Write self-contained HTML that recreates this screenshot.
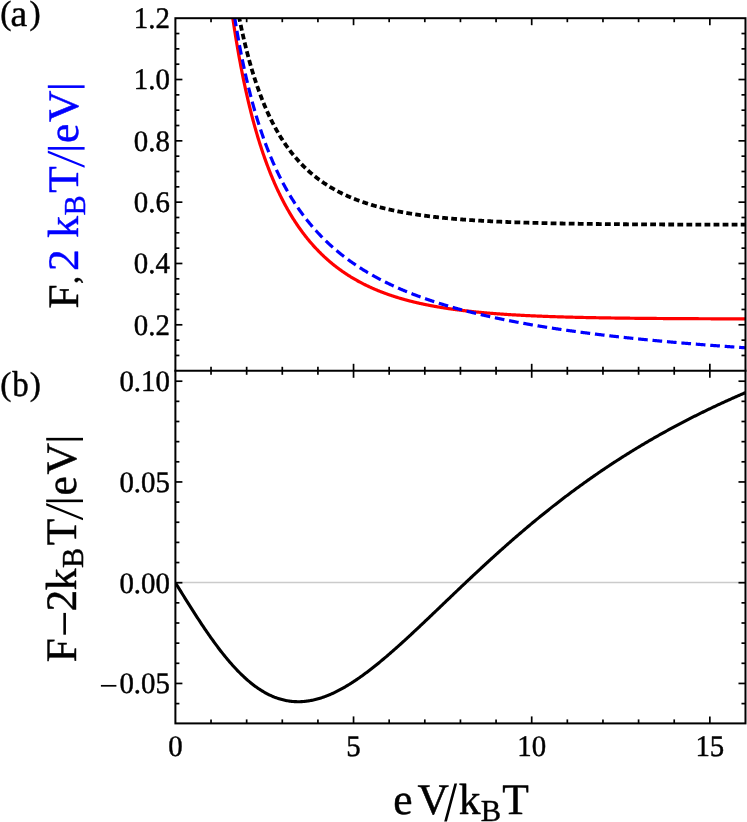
<!DOCTYPE html>
<html><head><meta charset="utf-8"><title>Fano factor</title>
<style>html,body{margin:0;padding:0;background:#fff}body{width:747px;height:822px;overflow:hidden}svg{display:block}</style>
</head><body>
<svg width="747" height="822" viewBox="0 0 747 822">
<rect width="747" height="822" fill="#fff"/>
<defs>
<clipPath id="ca"><rect x="175.40" y="18.20" width="570.08" height="352.60"/></clipPath>
<clipPath id="cb"><rect x="175.40" y="370.80" width="570.08" height="352.60"/></clipPath>
</defs>
<g clip-path="url(#ca)" fill="none" stroke-linejoin="round">
<path d="M211.03,-218.69 L211.48,-210.91 L211.93,-203.33 L212.39,-195.93 L212.84,-188.71 L213.29,-181.65 L213.74,-174.77 L214.19,-168.04 L214.64,-161.46 L215.10,-155.03 L215.55,-148.74 L216.00,-142.60 L216.45,-136.58 L216.90,-130.70 L217.35,-124.94 L217.81,-119.30 L218.26,-113.78 L218.71,-108.37 L219.16,-103.07 L219.61,-97.88 L220.06,-92.80 L220.52,-87.81 L220.97,-82.92 L221.42,-78.13 L221.87,-73.42 L222.32,-68.81 L222.77,-64.28 L223.23,-59.84 L223.68,-55.48 L224.13,-51.20 L224.58,-47.00 L225.03,-42.87 L225.48,-38.81 L225.94,-34.83 L226.39,-30.92 L226.84,-27.07 L227.29,-23.29 L227.74,-19.58 L228.19,-15.93 L228.65,-12.33 L229.10,-8.80 L229.55,-5.33 L230.00,-1.91 L230.45,1.45 L230.90,4.76 L231.36,8.02 L231.81,11.22 L232.26,14.38 L232.71,17.48 L233.16,20.54 L233.61,23.55 L234.07,26.51 L234.52,29.43 L234.97,32.31 L235.42,35.14 L235.87,37.94 L236.32,40.69 L236.78,43.40 L237.23,46.07 L237.68,48.71 L238.13,51.30 L238.58,53.86 L239.03,56.39 L239.49,58.88 L239.94,61.33 L240.39,63.75 L240.84,66.14 L241.29,68.50 L241.74,70.82 L242.20,73.11 L242.65,75.38 L243.10,77.61 L243.55,79.81 L244.00,81.99 L244.46,84.14 L244.91,86.25 L245.36,88.35 L245.81,90.41 L246.26,92.45 L246.71,94.46 L247.17,96.45 L247.62,98.42 L248.07,100.36 L248.52,102.27 L248.97,104.17 L249.42,106.04 L249.88,107.88 L250.33,109.71 L250.78,111.51 L251.23,113.29 L251.68,115.05 L252.13,116.80 L252.59,118.52 L253.04,120.22 L253.49,121.90 L253.94,123.56 L254.39,125.20 L254.84,126.82 L255.30,128.43 L255.75,130.02 L256.20,131.59 L256.65,133.14 L257.10,134.67 L257.55,136.19 L258.01,137.69 L258.46,139.18 L258.91,140.65 L259.36,142.10 L259.81,143.54 L260.26,144.96 L260.72,146.37 L261.17,147.76 L261.62,149.14 L262.07,150.50 L262.52,151.85 L262.97,153.18 L263.43,154.50 L263.88,155.81 L264.33,157.11 L264.78,158.39 L265.23,159.65 L265.68,160.91 L266.14,162.15 L266.59,163.38 L267.04,164.60 L267.49,165.80 L267.94,167.00 L268.39,168.18 L268.85,169.35 L269.30,170.51 L269.75,171.65 L270.20,172.79 L270.65,173.91 L271.10,175.03 L271.56,176.13 L272.01,177.22 L272.46,178.30 L272.91,179.38 L273.36,180.44 L273.81,181.49 L274.27,182.53 L274.72,183.56 L275.17,184.59 L275.62,185.60 L276.07,186.60 L276.53,187.60 L276.98,188.58 L277.43,189.56 L277.88,190.52 L278.33,191.48 L278.78,192.43 L279.24,193.37 L279.69,194.31 L280.14,195.23 L280.59,196.15 L281.04,197.05 L281.49,197.95 L281.95,198.84 L282.40,199.73 L282.85,200.60 L283.30,201.47 L283.75,202.33 L284.20,203.19 L284.66,204.03 L285.11,204.87 L285.56,205.70 L286.01,206.52 L286.46,207.34 L286.91,208.15 L287.37,208.95 L287.82,209.75 L288.27,210.54 L288.72,211.32 L289.17,212.09 L289.62,212.86 L290.08,213.63 L290.53,214.38 L290.98,215.13 L291.43,215.88 L291.88,216.61 L292.33,217.34 L292.79,218.07 L293.24,218.79 L293.69,219.50 L294.14,220.21 L294.59,220.91 L295.04,221.60 L295.50,222.29 L295.95,222.98 L296.40,223.66 L296.85,224.33 L297.30,225.00 L297.75,225.66 L298.21,226.32 L298.66,226.97 L299.11,227.62 L299.56,228.26 L300.01,228.89 L300.46,229.52 L300.92,230.15 L301.37,230.77 L301.82,231.39 L302.27,232.00 L302.72,232.61 L303.17,233.21 L303.63,233.80 L304.08,234.40 L304.53,234.98 L304.98,235.57 L305.43,236.15 L305.88,236.72 L306.34,237.29 L306.79,237.85 L307.24,238.41 L307.69,238.97 L308.14,239.52 L308.59,240.07 L309.05,240.61 L309.50,241.15 L309.95,241.69 L310.40,242.22 L310.85,242.75 L311.31,243.27 L311.76,243.79 L312.21,244.30 L312.66,244.82 L313.11,245.32 L313.56,245.83 L314.02,246.33 L314.47,246.82 L314.92,247.31 L315.37,247.80 L315.82,248.29 L316.27,248.77 L316.73,249.25 L317.18,249.72 L317.63,250.19 L318.08,250.66 L318.53,251.12 L318.98,251.58 L319.44,252.04 L319.89,252.49 L320.34,252.94 L320.79,253.39 L321.24,253.83 L321.69,254.27 L322.15,254.71 L322.60,255.14 L323.05,255.57 L323.50,256.00 L323.95,256.43 L324.40,256.85 L324.86,257.26 L325.31,257.68 L325.76,258.09 L326.21,258.50 L326.66,258.91 L327.11,259.31 L327.57,259.71 L328.02,260.11 L328.47,260.50 L328.92,260.89 L329.37,261.28 L329.82,261.67 L330.28,262.05 L330.73,262.43 L331.18,262.81 L331.63,263.18 L332.08,263.56 L332.53,263.93 L332.99,264.29 L333.44,264.66 L333.89,265.02 L334.34,265.38 L334.79,265.74 L335.24,266.09 L335.70,266.44 L336.15,266.79 L336.60,267.14 L337.05,267.48 L337.50,267.82 L337.95,268.16 L338.41,268.50 L338.86,268.84 L339.31,269.17 L339.76,269.50 L340.21,269.83 L340.66,270.15 L341.12,270.47 L341.57,270.79 L342.02,271.11 L342.47,271.43 L342.92,271.74 L343.38,272.06 L343.83,272.37 L344.28,272.67 L344.73,272.98 L345.18,273.28 L345.63,273.58 L346.09,273.88 L346.54,274.18 L346.99,274.47 L347.44,274.77 L347.89,275.06 L348.34,275.35 L348.80,275.63 L349.25,275.92 L349.70,276.20 L350.15,276.48 L350.60,276.76 L351.05,277.04 L351.51,277.31 L351.96,277.59 L352.41,277.86 L352.86,278.13 L353.31,278.40 L353.76,278.66 L354.22,278.93 L354.67,279.19 L355.12,279.45 L355.57,279.71 L356.02,279.97 L356.47,280.22 L356.93,280.48 L357.38,280.73 L357.83,280.98 L358.28,281.23 L358.73,281.47 L359.18,281.72 L359.64,281.96 L360.09,282.20 L360.54,282.44 L360.99,282.68 L361.44,282.92 L361.89,283.15 L362.35,283.39 L362.80,283.62 L363.25,283.85 L363.70,284.08 L364.15,284.31 L364.60,284.53 L365.06,284.76 L365.51,284.98 L365.96,285.20 L366.41,285.42 L366.86,285.64 L367.31,285.86 L367.77,286.07 L368.22,286.28 L368.67,286.50 L369.12,286.71 L369.57,286.92 L370.02,287.13 L370.48,287.33 L370.93,287.54 L371.38,287.74 L371.83,287.95 L372.28,288.15 L372.73,288.35 L373.19,288.55 L373.64,288.74 L374.09,288.94 L374.54,289.13 L374.99,289.33 L375.45,289.52 L375.90,289.71 L376.35,289.90 L376.80,290.09 L377.25,290.28 L377.70,290.46 L378.16,290.65 L378.61,290.83 L379.06,291.01 L379.51,291.19 L379.96,291.37 L380.41,291.55 L380.87,291.73 L381.32,291.91 L381.77,292.08 L382.22,292.25 L382.67,292.43 L383.12,292.60 L383.58,292.77 L384.03,292.94 L384.48,293.11 L384.93,293.27 L385.38,293.44 L385.83,293.61 L386.29,293.77 L386.74,293.93 L387.19,294.09 L387.64,294.25 L388.09,294.41 L388.54,294.57 L389.00,294.73 L389.45,294.89 L389.90,295.04 L390.35,295.20 L390.80,295.35 L391.25,295.50 L391.71,295.65 L392.16,295.80 L392.61,295.95 L393.06,296.10 L393.51,296.25 L393.96,296.40 L394.42,296.54 L394.87,296.69 L395.32,296.83 L395.77,296.97 L396.22,297.11 L396.67,297.25 L397.13,297.39 L397.58,297.53 L398.03,297.67 L398.48,297.81 L398.93,297.94 L399.38,298.08 L399.84,298.21 L400.29,298.35 L400.74,298.48 L401.19,298.61 L401.64,298.74 L402.09,298.87 L402.55,299.00 L403.00,299.13 L403.45,299.26 L403.90,299.39 L404.35,299.51 L404.80,299.64 L405.26,299.76 L405.71,299.88 L406.16,300.01 L406.61,300.13 L407.06,300.25 L407.52,300.37 L407.97,300.49 L408.42,300.61 L408.87,300.73 L409.32,300.84 L409.77,300.96 L410.23,301.08 L410.68,301.19 L411.13,301.31 L411.58,301.42 L412.03,301.53 L412.48,301.64 L412.94,301.75 L413.39,301.87 L413.84,301.98 L414.29,302.08 L414.74,302.19 L415.19,302.30 L415.65,302.41 L416.10,302.51 L416.55,302.62 L417.00,302.72 L417.45,302.83 L417.90,302.93 L418.36,303.03 L418.81,303.14 L419.26,303.24 L419.71,303.34 L420.16,303.44 L420.61,303.54 L421.07,303.64 L421.52,303.74 L421.97,303.83 L422.42,303.93 L422.87,304.03 L423.32,304.12 L423.78,304.22 L424.23,304.31 L424.68,304.41 L425.13,304.50 L425.58,304.59 L426.03,304.69 L426.49,304.78 L426.94,304.87 L427.39,304.96 L427.84,305.05 L428.29,305.14 L428.74,305.23 L429.20,305.31 L429.65,305.40 L430.10,305.49 L430.55,305.58 L431.00,305.66 L431.45,305.75 L431.91,305.83 L432.36,305.92 L432.81,306.00 L433.26,306.08 L433.71,306.16 L434.16,306.25 L434.62,306.33 L435.07,306.41 L435.52,306.49 L435.97,306.57 L436.42,306.65 L436.87,306.73 L437.33,306.81 L437.78,306.88 L438.23,306.96 L438.68,307.04 L439.13,307.12 L439.59,307.19 L440.04,307.27 L440.49,307.34 L440.94,307.42 L441.39,307.49 L441.84,307.56 L442.30,307.64 L442.75,307.71 L443.20,307.78 L443.65,307.85 L444.10,307.92 L444.55,307.99 L445.01,308.07 L445.46,308.14 L445.91,308.20 L446.36,308.27 L446.81,308.34 L447.26,308.41 L447.72,308.48 L448.17,308.54 L448.62,308.61 L449.07,308.68 L449.52,308.74 L449.97,308.81 L450.43,308.87 L450.88,308.94 L451.33,309.00 L451.78,309.07 L452.23,309.13 L452.68,309.19 L453.14,309.26 L453.59,309.32 L454.04,309.38 L454.49,309.44 L454.94,309.50 L455.39,309.56 L455.85,309.62 L456.30,309.68 L456.75,309.74 L457.20,309.80 L457.65,309.86 L458.10,309.92 L458.56,309.98 L459.01,310.03 L459.46,310.09 L459.91,310.15 L460.36,310.20 L460.81,310.26 L461.27,310.32 L461.72,310.37 L462.17,310.43 L462.62,310.48 L463.07,310.54 L463.52,310.59 L463.98,310.64 L464.43,310.70 L464.88,310.75 L465.33,310.80 L465.78,310.85 L466.23,310.91 L466.69,310.96 L467.14,311.01 L467.59,311.06 L468.04,311.11 L468.49,311.16 L468.94,311.21 L469.40,311.26 L469.85,311.31 L470.30,311.36 L470.75,311.41 L471.20,311.46 L471.65,311.51 L472.11,311.55 L472.56,311.60 L473.01,311.65 L473.46,311.69 L473.91,311.74 L474.37,311.79 L474.82,311.83 L475.27,311.88 L475.72,311.92 L476.17,311.97 L476.62,312.01 L477.08,312.06 L477.53,312.10 L477.98,312.15 L478.43,312.19 L478.88,312.23 L479.33,312.28 L479.79,312.32 L480.24,312.36 L480.69,312.41 L481.14,312.45 L481.59,312.49 L482.04,312.53 L482.50,312.57 L482.95,312.61 L483.40,312.65 L483.85,312.69 L484.30,312.73 L484.75,312.77 L485.21,312.81 L485.66,312.85 L486.11,312.89 L486.56,312.93 L487.01,312.97 L487.46,313.01 L487.92,313.05 L488.37,313.09 L488.82,313.12 L489.27,313.16 L489.72,313.20 L490.17,313.23 L490.63,313.27 L491.08,313.31 L491.53,313.34 L491.98,313.38 L492.43,313.42 L492.88,313.45 L493.34,313.49 L493.79,313.52 L494.24,313.56 L494.69,313.59 L495.14,313.63 L495.59,313.66 L496.05,313.70 L496.50,313.73 L496.95,313.76 L497.40,313.80 L497.85,313.83 L498.30,313.86 L498.76,313.90 L499.21,313.93 L499.66,313.96 L500.11,313.99 L500.56,314.02 L501.01,314.06 L501.47,314.09 L501.92,314.12 L502.37,314.15 L502.82,314.18 L503.27,314.21 L503.72,314.24 L504.18,314.27 L504.63,314.30 L505.08,314.33 L505.53,314.36 L505.98,314.39 L506.44,314.42 L506.89,314.45 L507.34,314.48 L507.79,314.51 L508.24,314.54 L508.69,314.57 L509.15,314.59 L509.60,314.62 L510.05,314.65 L510.50,314.68 L510.95,314.71 L511.40,314.73 L511.86,314.76 L512.31,314.79 L512.76,314.81 L513.21,314.84 L513.66,314.87 L514.11,314.89 L514.57,314.92 L515.02,314.95 L515.47,314.97 L515.92,315.00 L516.37,315.02 L516.82,315.05 L517.28,315.07 L517.73,315.10 L518.18,315.12 L518.63,315.15 L519.08,315.17 L519.53,315.20 L519.99,315.22 L520.44,315.25 L520.89,315.27 L521.34,315.29 L521.79,315.32 L522.24,315.34 L522.70,315.37 L523.15,315.39 L523.60,315.41 L524.05,315.43 L524.50,315.46 L524.95,315.48 L525.41,315.50 L525.86,315.53 L526.31,315.55 L526.76,315.57 L527.21,315.59 L527.66,315.61 L528.12,315.63 L528.57,315.66 L529.02,315.68 L529.47,315.70 L529.92,315.72 L530.37,315.74 L530.83,315.76 L531.28,315.78 L531.73,315.80 L532.18,315.82 L532.63,315.84 L533.08,315.86 L533.54,315.88 L533.99,315.90 L534.44,315.92 L534.89,315.94 L535.34,315.96 L535.79,315.98 L536.25,316.00 L536.70,316.02 L537.15,316.04 L537.60,316.06 L538.05,316.08 L538.51,316.10 L538.96,316.12 L539.41,316.13 L539.86,316.15 L540.31,316.17 L540.76,316.19 L541.22,316.21 L541.67,316.22 L542.12,316.24 L542.57,316.26 L543.02,316.28 L543.47,316.30 L543.93,316.31 L544.38,316.33 L544.83,316.35 L545.28,316.36 L545.73,316.38 L546.18,316.40 L546.64,316.41 L547.09,316.43 L547.54,316.45 L547.99,316.46 L548.44,316.48 L548.89,316.50 L549.35,316.51 L549.80,316.53 L550.25,316.54 L550.70,316.56 L551.15,316.58 L551.60,316.59 L552.06,316.61 L552.51,316.62 L552.96,316.64 L553.41,316.65 L553.86,316.67 L554.31,316.68 L554.77,316.70 L555.22,316.71 L555.67,316.73 L556.12,316.74 L556.57,316.76 L557.02,316.77 L557.48,316.78 L557.93,316.80 L558.38,316.81 L558.83,316.83 L559.28,316.84 L559.73,316.86 L560.19,316.87 L560.64,316.88 L561.09,316.90 L561.54,316.91 L561.99,316.92 L562.44,316.94 L562.90,316.95 L563.35,316.96 L563.80,316.98 L564.25,316.99 L564.70,317.00 L565.15,317.02 L565.61,317.03 L566.06,317.04 L566.51,317.05 L566.96,317.07 L567.41,317.08 L567.86,317.09 L568.32,317.10 L568.77,317.12 L569.22,317.13 L569.67,317.14 L570.12,317.15 L570.58,317.16 L571.03,317.18 L571.48,317.19 L571.93,317.20 L572.38,317.21 L572.83,317.22 L573.29,317.23 L573.74,317.24 L574.19,317.26 L574.64,317.27 L575.09,317.28 L575.54,317.29 L576.00,317.30 L576.45,317.31 L576.90,317.32 L577.35,317.33 L577.80,317.34 L578.25,317.35 L578.71,317.37 L579.16,317.38 L579.61,317.39 L580.06,317.40 L580.51,317.41 L580.96,317.42 L581.42,317.43 L581.87,317.44 L582.32,317.45 L582.77,317.46 L583.22,317.47 L583.67,317.48 L584.13,317.49 L584.58,317.50 L585.03,317.51 L585.48,317.52 L585.93,317.53 L586.38,317.54 L586.84,317.55 L587.29,317.56 L587.74,317.56 L588.19,317.57 L588.64,317.58 L589.09,317.59 L589.55,317.60 L590.00,317.61 L590.45,317.62 L590.90,317.63 L591.35,317.64 L591.80,317.65 L592.26,317.65 L592.71,317.66 L593.16,317.67 L593.61,317.68 L594.06,317.69 L594.51,317.70 L594.97,317.71 L595.42,317.71 L595.87,317.72 L596.32,317.73 L596.77,317.74 L597.22,317.75 L597.68,317.76 L598.13,317.76 L598.58,317.77 L599.03,317.78 L599.48,317.79 L599.93,317.80 L600.39,317.80 L600.84,317.81 L601.29,317.82 L601.74,317.83 L602.19,317.83 L602.65,317.84 L603.10,317.85 L603.55,317.86 L604.00,317.86 L604.45,317.87 L604.90,317.88 L605.36,317.89 L605.81,317.89 L606.26,317.90 L606.71,317.91 L607.16,317.92 L607.61,317.92 L608.07,317.93 L608.52,317.94 L608.97,317.94 L609.42,317.95 L609.87,317.96 L610.32,317.96 L610.78,317.97 L611.23,317.98 L611.68,317.98 L612.13,317.99 L612.58,318.00 L613.03,318.00 L613.49,318.01 L613.94,318.02 L614.39,318.02 L614.84,318.03 L615.29,318.04 L615.74,318.04 L616.20,318.05 L616.65,318.06 L617.10,318.06 L617.55,318.07 L618.00,318.07 L618.45,318.08 L618.91,318.09 L619.36,318.09 L619.81,318.10 L620.26,318.10 L620.71,318.11 L621.16,318.12 L621.62,318.12 L622.07,318.13 L622.52,318.13 L622.97,318.14 L623.42,318.14 L623.87,318.15 L624.33,318.16 L624.78,318.16 L625.23,318.17 L625.68,318.17 L626.13,318.18 L626.58,318.18 L627.04,318.19 L627.49,318.19 L627.94,318.20 L628.39,318.20 L628.84,318.21 L629.29,318.21 L629.75,318.22 L630.20,318.23 L630.65,318.23 L631.10,318.24 L631.55,318.24 L632.00,318.25 L632.46,318.25 L632.91,318.26 L633.36,318.26 L633.81,318.27 L634.26,318.27 L634.71,318.28 L635.17,318.28 L635.62,318.28 L636.07,318.29 L636.52,318.29 L636.97,318.30 L637.43,318.30 L637.88,318.31 L638.33,318.31 L638.78,318.32 L639.23,318.32 L639.68,318.33 L640.14,318.33 L640.59,318.34 L641.04,318.34 L641.49,318.34 L641.94,318.35 L642.39,318.35 L642.85,318.36 L643.30,318.36 L643.75,318.37 L644.20,318.37 L644.65,318.37 L645.10,318.38 L645.56,318.38 L646.01,318.39 L646.46,318.39 L646.91,318.39 L647.36,318.40 L647.81,318.40 L648.27,318.41 L648.72,318.41 L649.17,318.41 L649.62,318.42 L650.07,318.42 L650.52,318.43 L650.98,318.43 L651.43,318.43 L651.88,318.44 L652.33,318.44 L652.78,318.45 L653.23,318.45 L653.69,318.45 L654.14,318.46 L654.59,318.46 L655.04,318.46 L655.49,318.47 L655.94,318.47 L656.40,318.47 L656.85,318.48 L657.30,318.48 L657.75,318.49 L658.20,318.49 L658.65,318.49 L659.11,318.50 L659.56,318.50 L660.01,318.50 L660.46,318.51 L660.91,318.51 L661.36,318.51 L661.82,318.52 L662.27,318.52 L662.72,318.52 L663.17,318.53 L663.62,318.53 L664.07,318.53 L664.53,318.54 L664.98,318.54 L665.43,318.54 L665.88,318.54 L666.33,318.55 L666.78,318.55 L667.24,318.55 L667.69,318.56 L668.14,318.56 L668.59,318.56 L669.04,318.57 L669.50,318.57 L669.95,318.57 L670.40,318.57 L670.85,318.58 L671.30,318.58 L671.75,318.58 L672.21,318.59 L672.66,318.59 L673.11,318.59 L673.56,318.59 L674.01,318.60 L674.46,318.60 L674.92,318.60 L675.37,318.61 L675.82,318.61 L676.27,318.61 L676.72,318.61 L677.17,318.62 L677.63,318.62 L678.08,318.62 L678.53,318.62 L678.98,318.63 L679.43,318.63 L679.88,318.63 L680.34,318.63 L680.79,318.64 L681.24,318.64 L681.69,318.64 L682.14,318.64 L682.59,318.65 L683.05,318.65 L683.50,318.65 L683.95,318.65 L684.40,318.66 L684.85,318.66 L685.30,318.66 L685.76,318.66 L686.21,318.67 L686.66,318.67 L687.11,318.67 L687.56,318.67 L688.01,318.68 L688.47,318.68 L688.92,318.68 L689.37,318.68 L689.82,318.68 L690.27,318.69 L690.72,318.69 L691.18,318.69 L691.63,318.69 L692.08,318.70 L692.53,318.70 L692.98,318.70 L693.43,318.70 L693.89,318.70 L694.34,318.71 L694.79,318.71 L695.24,318.71 L695.69,318.71 L696.14,318.71 L696.60,318.72 L697.05,318.72 L697.50,318.72 L697.95,318.72 L698.40,318.72 L698.85,318.73 L699.31,318.73 L699.76,318.73 L700.21,318.73 L700.66,318.73 L701.11,318.74 L701.57,318.74 L702.02,318.74 L702.47,318.74 L702.92,318.74 L703.37,318.75 L703.82,318.75 L704.28,318.75 L704.73,318.75 L705.18,318.75 L705.63,318.75 L706.08,318.76 L706.53,318.76 L706.99,318.76 L707.44,318.76 L707.89,318.76 L708.34,318.77 L708.79,318.77 L709.24,318.77 L709.70,318.77 L710.15,318.77 L710.60,318.77 L711.05,318.78 L711.50,318.78 L711.95,318.78 L712.41,318.78 L712.86,318.78 L713.31,318.78 L713.76,318.79 L714.21,318.79 L714.66,318.79 L715.12,318.79 L715.57,318.79 L716.02,318.79 L716.47,318.79 L716.92,318.80 L717.37,318.80 L717.83,318.80 L718.28,318.80 L718.73,318.80 L719.18,318.80 L719.63,318.80 L720.08,318.81 L720.54,318.81 L720.99,318.81 L721.44,318.81 L721.89,318.81 L722.34,318.81 L722.79,318.81 L723.25,318.82 L723.70,318.82 L724.15,318.82 L724.60,318.82 L725.05,318.82 L725.50,318.82 L725.96,318.82 L726.41,318.83 L726.86,318.83 L727.31,318.83 L727.76,318.83 L728.21,318.83 L728.67,318.83 L729.12,318.83 L729.57,318.83 L730.02,318.84 L730.47,318.84 L730.92,318.84 L731.38,318.84 L731.83,318.84 L732.28,318.84 L732.73,318.84 L733.18,318.84 L733.64,318.85 L734.09,318.85 L734.54,318.85 L734.99,318.85 L735.44,318.85 L735.89,318.85 L736.35,318.85 L736.80,318.85 L737.25,318.86 L737.70,318.86 L738.15,318.86 L738.60,318.86 L739.06,318.86 L739.51,318.86 L739.96,318.86 L740.41,318.86 L740.86,318.86 L741.31,318.87 L741.77,318.87 L742.22,318.87 L742.67,318.87 L743.12,318.87 L743.57,318.87 L744.02,318.87 L744.48,318.87 L744.93,318.87 L745.38,318.87 L745.83,318.88 L746.28,318.88 L746.73,318.88 L747.19,318.88 L747.64,318.88 L748.09,318.88 L748.54,318.88 L748.99,318.88 L749.44,318.88 L749.90,318.88 L750.35,318.89 L750.80,318.89 L751.25,318.89 L751.70,318.89 L752.15,318.89 L752.61,318.89" stroke="#ff0000" stroke-width="3.2"/>
<path d="M211.03,-227.08 L211.48,-219.40 L211.93,-211.92 L212.39,-204.61 L212.84,-197.49 L213.29,-190.53 L213.74,-183.73 L214.19,-177.10 L214.64,-170.62 L215.10,-164.28 L215.55,-158.09 L216.00,-152.03 L216.45,-146.11 L216.90,-140.32 L217.35,-134.65 L217.81,-129.11 L218.26,-123.68 L218.71,-118.36 L219.16,-113.15 L219.61,-108.05 L220.06,-103.05 L220.52,-98.16 L220.97,-93.35 L221.42,-88.65 L221.87,-84.03 L222.32,-79.51 L222.77,-75.07 L223.23,-70.71 L223.68,-66.44 L224.13,-62.24 L224.58,-58.13 L225.03,-54.08 L225.48,-50.11 L225.94,-46.21 L226.39,-42.38 L226.84,-38.62 L227.29,-34.92 L227.74,-31.29 L228.19,-27.72 L228.65,-24.21 L229.10,-20.76 L229.55,-17.36 L230.00,-14.03 L230.45,-10.74 L230.90,-7.51 L231.36,-4.34 L231.81,-1.21 L232.26,1.87 L232.71,4.90 L233.16,7.88 L233.61,10.81 L234.07,13.70 L234.52,16.55 L234.97,19.35 L235.42,22.11 L235.87,24.83 L236.32,27.51 L236.78,30.15 L237.23,32.75 L237.68,35.31 L238.13,37.84 L238.58,40.33 L239.03,42.78 L239.49,45.20 L239.94,47.59 L240.39,49.94 L240.84,52.26 L241.29,54.55 L241.74,56.81 L242.20,59.03 L242.65,61.23 L243.10,63.40 L243.55,65.54 L244.00,67.65 L244.46,69.73 L244.91,71.79 L245.36,73.82 L245.81,75.82 L246.26,77.80 L246.71,79.75 L247.17,81.68 L247.62,83.58 L248.07,85.46 L248.52,87.32 L248.97,89.15 L249.42,90.97 L249.88,92.76 L250.33,94.53 L250.78,96.27 L251.23,98.00 L251.68,99.71 L252.13,101.39 L252.59,103.06 L253.04,104.70 L253.49,106.33 L253.94,107.94 L254.39,109.53 L254.84,111.10 L255.30,112.66 L255.75,114.20 L256.20,115.72 L256.65,117.22 L257.10,118.71 L257.55,120.18 L258.01,121.63 L258.46,123.07 L258.91,124.49 L259.36,125.90 L259.81,127.29 L260.26,128.67 L260.72,130.03 L261.17,131.38 L261.62,132.72 L262.07,134.04 L262.52,135.34 L262.97,136.64 L263.43,137.92 L263.88,139.18 L264.33,140.44 L264.78,141.68 L265.23,142.91 L265.68,144.13 L266.14,145.33 L266.59,146.52 L267.04,147.70 L267.49,148.87 L267.94,150.03 L268.39,151.18 L268.85,152.31 L269.30,153.44 L269.75,154.55 L270.20,155.66 L270.65,156.75 L271.10,157.83 L271.56,158.90 L272.01,159.97 L272.46,161.02 L272.91,162.06 L273.36,163.09 L273.81,164.12 L274.27,165.13 L274.72,166.14 L275.17,167.13 L275.62,168.12 L276.07,169.10 L276.53,170.07 L276.98,171.03 L277.43,171.98 L277.88,172.92 L278.33,173.86 L278.78,174.79 L279.24,175.71 L279.69,176.62 L280.14,177.52 L280.59,178.42 L281.04,179.31 L281.49,180.19 L281.95,181.06 L282.40,181.92 L282.85,182.78 L283.30,183.63 L283.75,184.48 L284.20,185.32 L284.66,186.15 L285.11,186.97 L285.56,187.79 L286.01,188.60 L286.46,189.40 L286.91,190.20 L287.37,190.99 L287.82,191.77 L288.27,192.55 L288.72,193.32 L289.17,194.08 L289.62,194.84 L290.08,195.60 L290.53,196.34 L290.98,197.09 L291.43,197.82 L291.88,198.55 L292.33,199.28 L292.79,200.00 L293.24,200.71 L293.69,201.42 L294.14,202.12 L294.59,202.82 L295.04,203.51 L295.50,204.20 L295.95,204.88 L296.40,205.55 L296.85,206.23 L297.30,206.89 L297.75,207.55 L298.21,208.21 L298.66,208.86 L299.11,209.51 L299.56,210.15 L300.01,210.79 L300.46,211.42 L300.92,212.05 L301.37,212.68 L301.82,213.30 L302.27,213.91 L302.72,214.52 L303.17,215.13 L303.63,215.73 L304.08,216.33 L304.53,216.92 L304.98,217.51 L305.43,218.10 L305.88,218.68 L306.34,219.26 L306.79,219.83 L307.24,220.40 L307.69,220.97 L308.14,221.53 L308.59,222.09 L309.05,222.64 L309.50,223.19 L309.95,223.74 L310.40,224.28 L310.85,224.82 L311.31,225.36 L311.76,225.89 L312.21,226.42 L312.66,226.95 L313.11,227.47 L313.56,227.99 L314.02,228.50 L314.47,229.01 L314.92,229.52 L315.37,230.03 L315.82,230.53 L316.27,231.03 L316.73,231.52 L317.18,232.02 L317.63,232.51 L318.08,232.99 L318.53,233.48 L318.98,233.96 L319.44,234.43 L319.89,234.91 L320.34,235.38 L320.79,235.85 L321.24,236.31 L321.69,236.77 L322.15,237.23 L322.60,237.69 L323.05,238.15 L323.50,238.60 L323.95,239.05 L324.40,239.49 L324.86,239.93 L325.31,240.37 L325.76,240.81 L326.21,241.25 L326.66,241.68 L327.11,242.11 L327.57,242.54 L328.02,242.96 L328.47,243.39 L328.92,243.81 L329.37,244.22 L329.82,244.64 L330.28,245.05 L330.73,245.46 L331.18,245.87 L331.63,246.27 L332.08,246.68 L332.53,247.08 L332.99,247.48 L333.44,247.87 L333.89,248.27 L334.34,248.66 L334.79,249.05 L335.24,249.44 L335.70,249.82 L336.15,250.20 L336.60,250.58 L337.05,250.96 L337.50,251.34 L337.95,251.71 L338.41,252.09 L338.86,252.46 L339.31,252.83 L339.76,253.19 L340.21,253.56 L340.66,253.92 L341.12,254.28 L341.57,254.64 L342.02,254.99 L342.47,255.35 L342.92,255.70 L343.38,256.05 L343.83,256.40 L344.28,256.75 L344.73,257.09 L345.18,257.44 L345.63,257.78 L346.09,258.12 L346.54,258.45 L346.99,258.79 L347.44,259.12 L347.89,259.46 L348.34,259.79 L348.80,260.12 L349.25,260.44 L349.70,260.77 L350.15,261.09 L350.60,261.42 L351.05,261.74 L351.51,262.06 L351.96,262.37 L352.41,262.69 L352.86,263.00 L353.31,263.32 L353.76,263.63 L354.22,263.94 L354.67,264.24 L355.12,264.55 L355.57,264.86 L356.02,265.16 L356.47,265.46 L356.93,265.76 L357.38,266.06 L357.83,266.36 L358.28,266.65 L358.73,266.95 L359.18,267.24 L359.64,267.53 L360.09,267.82 L360.54,268.11 L360.99,268.40 L361.44,268.68 L361.89,268.97 L362.35,269.25 L362.80,269.53 L363.25,269.81 L363.70,270.09 L364.15,270.37 L364.60,270.65 L365.06,270.92 L365.51,271.19 L365.96,271.47 L366.41,271.74 L366.86,272.01 L367.31,272.28 L367.77,272.54 L368.22,272.81 L368.67,273.07 L369.12,273.34 L369.57,273.60 L370.02,273.86 L370.48,274.12 L370.93,274.38 L371.38,274.64 L371.83,274.89 L372.28,275.15 L372.73,275.40 L373.19,275.66 L373.64,275.91 L374.09,276.16 L374.54,276.41 L374.99,276.66 L375.45,276.90 L375.90,277.15 L376.35,277.39 L376.80,277.64 L377.25,277.88 L377.70,278.12 L378.16,278.36 L378.61,278.60 L379.06,278.84 L379.51,279.08 L379.96,279.31 L380.41,279.55 L380.87,279.78 L381.32,280.02 L381.77,280.25 L382.22,280.48 L382.67,280.71 L383.12,280.94 L383.58,281.17 L384.03,281.40 L384.48,281.62 L384.93,281.85 L385.38,282.07 L385.83,282.29 L386.29,282.52 L386.74,282.74 L387.19,282.96 L387.64,283.18 L388.09,283.40 L388.54,283.62 L389.00,283.83 L389.45,284.05 L389.90,284.26 L390.35,284.48 L390.80,284.69 L391.25,284.90 L391.71,285.11 L392.16,285.32 L392.61,285.53 L393.06,285.74 L393.51,285.95 L393.96,286.16 L394.42,286.36 L394.87,286.57 L395.32,286.77 L395.77,286.98 L396.22,287.18 L396.67,287.38 L397.13,287.58 L397.58,287.78 L398.03,287.98 L398.48,288.18 L398.93,288.38 L399.38,288.58 L399.84,288.77 L400.29,288.97 L400.74,289.16 L401.19,289.36 L401.64,289.55 L402.09,289.74 L402.55,289.93 L403.00,290.12 L403.45,290.31 L403.90,290.50 L404.35,290.69 L404.80,290.88 L405.26,291.07 L405.71,291.25 L406.16,291.44 L406.61,291.63 L407.06,291.81 L407.52,291.99 L407.97,292.18 L408.42,292.36 L408.87,292.54 L409.32,292.72 L409.77,292.90 L410.23,293.08 L410.68,293.26 L411.13,293.44 L411.58,293.61 L412.03,293.79 L412.48,293.97 L412.94,294.14 L413.39,294.32 L413.84,294.49 L414.29,294.66 L414.74,294.84 L415.19,295.01 L415.65,295.18 L416.10,295.35 L416.55,295.52 L417.00,295.69 L417.45,295.86 L417.90,296.03 L418.36,296.19 L418.81,296.36 L419.26,296.53 L419.71,296.69 L420.16,296.86 L420.61,297.02 L421.07,297.18 L421.52,297.35 L421.97,297.51 L422.42,297.67 L422.87,297.83 L423.32,298.00 L423.78,298.16 L424.23,298.31 L424.68,298.47 L425.13,298.63 L425.58,298.79 L426.03,298.95 L426.49,299.10 L426.94,299.26 L427.39,299.42 L427.84,299.57 L428.29,299.73 L428.74,299.88 L429.20,300.03 L429.65,300.19 L430.10,300.34 L430.55,300.49 L431.00,300.64 L431.45,300.79 L431.91,300.94 L432.36,301.09 L432.81,301.24 L433.26,301.39 L433.71,301.54 L434.16,301.69 L434.62,301.83 L435.07,301.98 L435.52,302.13 L435.97,302.27 L436.42,302.42 L436.87,302.56 L437.33,302.71 L437.78,302.85 L438.23,302.99 L438.68,303.14 L439.13,303.28 L439.59,303.42 L440.04,303.56 L440.49,303.70 L440.94,303.84 L441.39,303.98 L441.84,304.12 L442.30,304.26 L442.75,304.40 L443.20,304.54 L443.65,304.67 L444.10,304.81 L444.55,304.95 L445.01,305.08 L445.46,305.22 L445.91,305.35 L446.36,305.49 L446.81,305.62 L447.26,305.76 L447.72,305.89 L448.17,306.02 L448.62,306.15 L449.07,306.29 L449.52,306.42 L449.97,306.55 L450.43,306.68 L450.88,306.81 L451.33,306.94 L451.78,307.07 L452.23,307.20 L452.68,307.33 L453.14,307.45 L453.59,307.58 L454.04,307.71 L454.49,307.84 L454.94,307.96 L455.39,308.09 L455.85,308.21 L456.30,308.34 L456.75,308.46 L457.20,308.59 L457.65,308.71 L458.10,308.84 L458.56,308.96 L459.01,309.08 L459.46,309.21 L459.91,309.33 L460.36,309.45 L460.81,309.57 L461.27,309.69 L461.72,309.81 L462.17,309.93 L462.62,310.05 L463.07,310.17 L463.52,310.29 L463.98,310.41 L464.43,310.53 L464.88,310.65 L465.33,310.76 L465.78,310.88 L466.23,311.00 L466.69,311.11 L467.14,311.23 L467.59,311.35 L468.04,311.46 L468.49,311.58 L468.94,311.69 L469.40,311.81 L469.85,311.92 L470.30,312.03 L470.75,312.15 L471.20,312.26 L471.65,312.37 L472.11,312.48 L472.56,312.60 L473.01,312.71 L473.46,312.82 L473.91,312.93 L474.37,313.04 L474.82,313.15 L475.27,313.26 L475.72,313.37 L476.17,313.48 L476.62,313.59 L477.08,313.70 L477.53,313.80 L477.98,313.91 L478.43,314.02 L478.88,314.13 L479.33,314.23 L479.79,314.34 L480.24,314.45 L480.69,314.55 L481.14,314.66 L481.59,314.77 L482.04,314.87 L482.50,314.97 L482.95,315.08 L483.40,315.18 L483.85,315.29 L484.30,315.39 L484.75,315.49 L485.21,315.60 L485.66,315.70 L486.11,315.80 L486.56,315.90 L487.01,316.01 L487.46,316.11 L487.92,316.21 L488.37,316.31 L488.82,316.41 L489.27,316.51 L489.72,316.61 L490.17,316.71 L490.63,316.81 L491.08,316.91 L491.53,317.01 L491.98,317.11 L492.43,317.20 L492.88,317.30 L493.34,317.40 L493.79,317.50 L494.24,317.60 L494.69,317.69 L495.14,317.79 L495.59,317.89 L496.05,317.98 L496.50,318.08 L496.95,318.17 L497.40,318.27 L497.85,318.36 L498.30,318.46 L498.76,318.55 L499.21,318.65 L499.66,318.74 L500.11,318.83 L500.56,318.93 L501.01,319.02 L501.47,319.11 L501.92,319.21 L502.37,319.30 L502.82,319.39 L503.27,319.48 L503.72,319.58 L504.18,319.67 L504.63,319.76 L505.08,319.85 L505.53,319.94 L505.98,320.03 L506.44,320.12 L506.89,320.21 L507.34,320.30 L507.79,320.39 L508.24,320.48 L508.69,320.57 L509.15,320.66 L509.60,320.74 L510.05,320.83 L510.50,320.92 L510.95,321.01 L511.40,321.10 L511.86,321.18 L512.31,321.27 L512.76,321.36 L513.21,321.44 L513.66,321.53 L514.11,321.62 L514.57,321.70 L515.02,321.79 L515.47,321.87 L515.92,321.96 L516.37,322.04 L516.82,322.13 L517.28,322.21 L517.73,322.30 L518.18,322.38 L518.63,322.47 L519.08,322.55 L519.53,322.63 L519.99,322.72 L520.44,322.80 L520.89,322.88 L521.34,322.96 L521.79,323.05 L522.24,323.13 L522.70,323.21 L523.15,323.29 L523.60,323.37 L524.05,323.45 L524.50,323.54 L524.95,323.62 L525.41,323.70 L525.86,323.78 L526.31,323.86 L526.76,323.94 L527.21,324.02 L527.66,324.10 L528.12,324.18 L528.57,324.26 L529.02,324.34 L529.47,324.41 L529.92,324.49 L530.37,324.57 L530.83,324.65 L531.28,324.73 L531.73,324.81 L532.18,324.88 L532.63,324.96 L533.08,325.04 L533.54,325.11 L533.99,325.19 L534.44,325.27 L534.89,325.34 L535.34,325.42 L535.79,325.50 L536.25,325.57 L536.70,325.65 L537.15,325.72 L537.60,325.80 L538.05,325.87 L538.51,325.95 L538.96,326.02 L539.41,326.10 L539.86,326.17 L540.31,326.25 L540.76,326.32 L541.22,326.39 L541.67,326.47 L542.12,326.54 L542.57,326.62 L543.02,326.69 L543.47,326.76 L543.93,326.83 L544.38,326.91 L544.83,326.98 L545.28,327.05 L545.73,327.12 L546.18,327.20 L546.64,327.27 L547.09,327.34 L547.54,327.41 L547.99,327.48 L548.44,327.55 L548.89,327.62 L549.35,327.69 L549.80,327.76 L550.25,327.83 L550.70,327.90 L551.15,327.97 L551.60,328.04 L552.06,328.11 L552.51,328.18 L552.96,328.25 L553.41,328.32 L553.86,328.39 L554.31,328.46 L554.77,328.53 L555.22,328.60 L555.67,328.67 L556.12,328.73 L556.57,328.80 L557.02,328.87 L557.48,328.94 L557.93,329.00 L558.38,329.07 L558.83,329.14 L559.28,329.21 L559.73,329.27 L560.19,329.34 L560.64,329.41 L561.09,329.47 L561.54,329.54 L561.99,329.60 L562.44,329.67 L562.90,329.74 L563.35,329.80 L563.80,329.87 L564.25,329.93 L564.70,330.00 L565.15,330.06 L565.61,330.13 L566.06,330.19 L566.51,330.26 L566.96,330.32 L567.41,330.39 L567.86,330.45 L568.32,330.51 L568.77,330.58 L569.22,330.64 L569.67,330.71 L570.12,330.77 L570.58,330.83 L571.03,330.90 L571.48,330.96 L571.93,331.02 L572.38,331.08 L572.83,331.15 L573.29,331.21 L573.74,331.27 L574.19,331.33 L574.64,331.40 L575.09,331.46 L575.54,331.52 L576.00,331.58 L576.45,331.64 L576.90,331.70 L577.35,331.76 L577.80,331.83 L578.25,331.89 L578.71,331.95 L579.16,332.01 L579.61,332.07 L580.06,332.13 L580.51,332.19 L580.96,332.25 L581.42,332.31 L581.87,332.37 L582.32,332.43 L582.77,332.49 L583.22,332.55 L583.67,332.61 L584.13,332.67 L584.58,332.72 L585.03,332.78 L585.48,332.84 L585.93,332.90 L586.38,332.96 L586.84,333.02 L587.29,333.08 L587.74,333.13 L588.19,333.19 L588.64,333.25 L589.09,333.31 L589.55,333.36 L590.00,333.42 L590.45,333.48 L590.90,333.54 L591.35,333.59 L591.80,333.65 L592.26,333.71 L592.71,333.76 L593.16,333.82 L593.61,333.88 L594.06,333.93 L594.51,333.99 L594.97,334.05 L595.42,334.10 L595.87,334.16 L596.32,334.21 L596.77,334.27 L597.22,334.33 L597.68,334.38 L598.13,334.44 L598.58,334.49 L599.03,334.55 L599.48,334.60 L599.93,334.66 L600.39,334.71 L600.84,334.77 L601.29,334.82 L601.74,334.87 L602.19,334.93 L602.65,334.98 L603.10,335.04 L603.55,335.09 L604.00,335.14 L604.45,335.20 L604.90,335.25 L605.36,335.30 L605.81,335.36 L606.26,335.41 L606.71,335.46 L607.16,335.52 L607.61,335.57 L608.07,335.62 L608.52,335.68 L608.97,335.73 L609.42,335.78 L609.87,335.83 L610.32,335.89 L610.78,335.94 L611.23,335.99 L611.68,336.04 L612.13,336.09 L612.58,336.14 L613.03,336.20 L613.49,336.25 L613.94,336.30 L614.39,336.35 L614.84,336.40 L615.29,336.45 L615.74,336.50 L616.20,336.55 L616.65,336.61 L617.10,336.66 L617.55,336.71 L618.00,336.76 L618.45,336.81 L618.91,336.86 L619.36,336.91 L619.81,336.96 L620.26,337.01 L620.71,337.06 L621.16,337.11 L621.62,337.16 L622.07,337.21 L622.52,337.26 L622.97,337.30 L623.42,337.35 L623.87,337.40 L624.33,337.45 L624.78,337.50 L625.23,337.55 L625.68,337.60 L626.13,337.65 L626.58,337.70 L627.04,337.74 L627.49,337.79 L627.94,337.84 L628.39,337.89 L628.84,337.94 L629.29,337.98 L629.75,338.03 L630.20,338.08 L630.65,338.13 L631.10,338.18 L631.55,338.22 L632.00,338.27 L632.46,338.32 L632.91,338.36 L633.36,338.41 L633.81,338.46 L634.26,338.51 L634.71,338.55 L635.17,338.60 L635.62,338.65 L636.07,338.69 L636.52,338.74 L636.97,338.79 L637.43,338.83 L637.88,338.88 L638.33,338.92 L638.78,338.97 L639.23,339.02 L639.68,339.06 L640.14,339.11 L640.59,339.15 L641.04,339.20 L641.49,339.24 L641.94,339.29 L642.39,339.33 L642.85,339.38 L643.30,339.43 L643.75,339.47 L644.20,339.52 L644.65,339.56 L645.10,339.60 L645.56,339.65 L646.01,339.69 L646.46,339.74 L646.91,339.78 L647.36,339.83 L647.81,339.87 L648.27,339.92 L648.72,339.96 L649.17,340.00 L649.62,340.05 L650.07,340.09 L650.52,340.14 L650.98,340.18 L651.43,340.22 L651.88,340.27 L652.33,340.31 L652.78,340.35 L653.23,340.40 L653.69,340.44 L654.14,340.48 L654.59,340.53 L655.04,340.57 L655.49,340.61 L655.94,340.65 L656.40,340.70 L656.85,340.74 L657.30,340.78 L657.75,340.82 L658.20,340.87 L658.65,340.91 L659.11,340.95 L659.56,340.99 L660.01,341.04 L660.46,341.08 L660.91,341.12 L661.36,341.16 L661.82,341.20 L662.27,341.24 L662.72,341.29 L663.17,341.33 L663.62,341.37 L664.07,341.41 L664.53,341.45 L664.98,341.49 L665.43,341.53 L665.88,341.58 L666.33,341.62 L666.78,341.66 L667.24,341.70 L667.69,341.74 L668.14,341.78 L668.59,341.82 L669.04,341.86 L669.50,341.90 L669.95,341.94 L670.40,341.98 L670.85,342.02 L671.30,342.06 L671.75,342.10 L672.21,342.14 L672.66,342.18 L673.11,342.22 L673.56,342.26 L674.01,342.30 L674.46,342.34 L674.92,342.38 L675.37,342.42 L675.82,342.46 L676.27,342.50 L676.72,342.54 L677.17,342.58 L677.63,342.62 L678.08,342.66 L678.53,342.70 L678.98,342.73 L679.43,342.77 L679.88,342.81 L680.34,342.85 L680.79,342.89 L681.24,342.93 L681.69,342.97 L682.14,343.00 L682.59,343.04 L683.05,343.08 L683.50,343.12 L683.95,343.16 L684.40,343.20 L684.85,343.23 L685.30,343.27 L685.76,343.31 L686.21,343.35 L686.66,343.39 L687.11,343.42 L687.56,343.46 L688.01,343.50 L688.47,343.54 L688.92,343.57 L689.37,343.61 L689.82,343.65 L690.27,343.69 L690.72,343.72 L691.18,343.76 L691.63,343.80 L692.08,343.83 L692.53,343.87 L692.98,343.91 L693.43,343.94 L693.89,343.98 L694.34,344.02 L694.79,344.05 L695.24,344.09 L695.69,344.13 L696.14,344.16 L696.60,344.20 L697.05,344.24 L697.50,344.27 L697.95,344.31 L698.40,344.35 L698.85,344.38 L699.31,344.42 L699.76,344.45 L700.21,344.49 L700.66,344.52 L701.11,344.56 L701.57,344.60 L702.02,344.63 L702.47,344.67 L702.92,344.70 L703.37,344.74 L703.82,344.77 L704.28,344.81 L704.73,344.84 L705.18,344.88 L705.63,344.91 L706.08,344.95 L706.53,344.98 L706.99,345.02 L707.44,345.05 L707.89,345.09 L708.34,345.12 L708.79,345.16 L709.24,345.19 L709.70,345.23 L710.15,345.26 L710.60,345.30 L711.05,345.33 L711.50,345.37 L711.95,345.40 L712.41,345.43 L712.86,345.47 L713.31,345.50 L713.76,345.54 L714.21,345.57 L714.66,345.60 L715.12,345.64 L715.57,345.67 L716.02,345.71 L716.47,345.74 L716.92,345.77 L717.37,345.81 L717.83,345.84 L718.28,345.87 L718.73,345.91 L719.18,345.94 L719.63,345.97 L720.08,346.01 L720.54,346.04 L720.99,346.07 L721.44,346.11 L721.89,346.14 L722.34,346.17 L722.79,346.21 L723.25,346.24 L723.70,346.27 L724.15,346.31 L724.60,346.34 L725.05,346.37 L725.50,346.40 L725.96,346.44 L726.41,346.47 L726.86,346.50 L727.31,346.53 L727.76,346.57 L728.21,346.60 L728.67,346.63 L729.12,346.66 L729.57,346.69 L730.02,346.73 L730.47,346.76 L730.92,346.79 L731.38,346.82 L731.83,346.85 L732.28,346.89 L732.73,346.92 L733.18,346.95 L733.64,346.98 L734.09,347.01 L734.54,347.05 L734.99,347.08 L735.44,347.11 L735.89,347.14 L736.35,347.17 L736.80,347.20 L737.25,347.23 L737.70,347.26 L738.15,347.30 L738.60,347.33 L739.06,347.36 L739.51,347.39 L739.96,347.42 L740.41,347.45 L740.86,347.48 L741.31,347.51 L741.77,347.54 L742.22,347.57 L742.67,347.61 L743.12,347.64 L743.57,347.67 L744.02,347.70 L744.48,347.73 L744.93,347.76 L745.38,347.79 L745.83,347.82 L746.28,347.85 L746.73,347.88 L747.19,347.91 L747.64,347.94 L748.09,347.97 L748.54,348.00 L748.99,348.03 L749.44,348.06 L749.90,348.09 L750.35,348.12 L750.80,348.15 L751.25,348.18 L751.70,348.21 L752.15,348.24 L752.61,348.27" stroke="#0000ff" stroke-width="3.2" stroke-dasharray="9.700 4.785" stroke-dashoffset="1.34"/>
<path d="M211.03,-241.77 L211.48,-234.28 L211.93,-226.97 L212.39,-219.85 L212.84,-212.91 L213.29,-206.14 L213.74,-199.53 L214.19,-193.07 L214.64,-186.77 L215.10,-180.62 L215.55,-174.61 L216.00,-168.74 L216.45,-163.00 L216.90,-157.39 L217.35,-151.91 L217.81,-146.54 L218.26,-141.29 L218.71,-136.16 L219.16,-131.14 L219.61,-126.22 L220.06,-121.40 L220.52,-116.69 L220.97,-112.07 L221.42,-107.54 L221.87,-103.11 L222.32,-98.76 L222.77,-94.51 L223.23,-90.33 L223.68,-86.24 L224.13,-82.22 L224.58,-78.29 L225.03,-74.43 L225.48,-70.64 L225.94,-66.92 L226.39,-63.27 L226.84,-59.69 L227.29,-56.17 L227.74,-52.72 L228.19,-49.32 L228.65,-45.99 L229.10,-42.72 L229.55,-39.51 L230.00,-36.35 L230.45,-33.24 L230.90,-30.19 L231.36,-27.20 L231.81,-24.25 L232.26,-21.35 L232.71,-18.50 L233.16,-15.70 L233.61,-12.94 L234.07,-10.23 L234.52,-7.56 L234.97,-4.94 L235.42,-2.36 L235.87,0.19 L236.32,2.69 L236.78,5.15 L237.23,7.57 L237.68,9.96 L238.13,12.31 L238.58,14.62 L239.03,16.90 L239.49,19.14 L239.94,21.35 L240.39,23.53 L240.84,25.67 L241.29,27.78 L241.74,29.86 L242.20,31.92 L242.65,33.94 L243.10,35.93 L243.55,37.89 L244.00,39.83 L244.46,41.74 L244.91,43.62 L245.36,45.47 L245.81,47.30 L246.26,49.10 L246.71,50.88 L247.17,52.64 L247.62,54.37 L248.07,56.07 L248.52,57.76 L248.97,59.42 L249.42,61.06 L249.88,62.67 L250.33,64.27 L250.78,65.84 L251.23,67.40 L251.68,68.93 L252.13,70.45 L252.59,71.94 L253.04,73.41 L253.49,74.87 L253.94,76.31 L254.39,77.73 L254.84,79.13 L255.30,80.51 L255.75,81.88 L256.20,83.23 L256.65,84.56 L257.10,85.88 L257.55,87.18 L258.01,88.46 L258.46,89.73 L258.91,90.98 L259.36,92.22 L259.81,93.44 L260.26,94.65 L260.72,95.84 L261.17,97.02 L261.62,98.19 L262.07,99.34 L262.52,100.48 L262.97,101.60 L263.43,102.72 L263.88,103.82 L264.33,104.90 L264.78,105.98 L265.23,107.04 L265.68,108.09 L266.14,109.12 L266.59,110.15 L267.04,111.16 L267.49,112.17 L267.94,113.16 L268.39,114.14 L268.85,115.11 L269.30,116.07 L269.75,117.02 L270.20,117.95 L270.65,118.88 L271.10,119.80 L271.56,120.71 L272.01,121.60 L272.46,122.49 L272.91,123.37 L273.36,124.24 L273.81,125.10 L274.27,125.95 L274.72,126.79 L275.17,127.62 L275.62,128.45 L276.07,129.26 L276.53,130.07 L276.98,130.87 L277.43,131.66 L277.88,132.44 L278.33,133.21 L278.78,133.98 L279.24,134.73 L279.69,135.48 L280.14,136.22 L280.59,136.96 L281.04,137.69 L281.49,138.41 L281.95,139.12 L282.40,139.82 L282.85,140.52 L283.30,141.21 L283.75,141.90 L284.20,142.57 L284.66,143.25 L285.11,143.91 L285.56,144.57 L286.01,145.22 L286.46,145.86 L286.91,146.50 L287.37,147.13 L287.82,147.76 L288.27,148.38 L288.72,148.99 L289.17,149.60 L289.62,150.20 L290.08,150.80 L290.53,151.39 L290.98,151.97 L291.43,152.55 L291.88,153.13 L292.33,153.69 L292.79,154.26 L293.24,154.82 L293.69,155.37 L294.14,155.91 L294.59,156.46 L295.04,156.99 L295.50,157.53 L295.95,158.05 L296.40,158.57 L296.85,159.09 L297.30,159.60 L297.75,160.11 L298.21,160.62 L298.66,161.11 L299.11,161.61 L299.56,162.10 L300.01,162.58 L300.46,163.06 L300.92,163.54 L301.37,164.01 L301.82,164.48 L302.27,164.94 L302.72,165.40 L303.17,165.86 L303.63,166.31 L304.08,166.75 L304.53,167.20 L304.98,167.64 L305.43,168.07 L305.88,168.50 L306.34,168.93 L306.79,169.35 L307.24,169.77 L307.69,170.19 L308.14,170.60 L308.59,171.01 L309.05,171.42 L309.50,171.82 L309.95,172.22 L310.40,172.61 L310.85,173.01 L311.31,173.39 L311.76,173.78 L312.21,174.16 L312.66,174.54 L313.11,174.91 L313.56,175.29 L314.02,175.65 L314.47,176.02 L314.92,176.38 L315.37,176.74 L315.82,177.10 L316.27,177.45 L316.73,177.80 L317.18,178.15 L317.63,178.49 L318.08,178.83 L318.53,179.17 L318.98,179.51 L319.44,179.84 L319.89,180.17 L320.34,180.50 L320.79,180.82 L321.24,181.15 L321.69,181.47 L322.15,181.78 L322.60,182.10 L323.05,182.41 L323.50,182.72 L323.95,183.02 L324.40,183.33 L324.86,183.63 L325.31,183.93 L325.76,184.22 L326.21,184.52 L326.66,184.81 L327.11,185.10 L327.57,185.39 L328.02,185.67 L328.47,185.95 L328.92,186.23 L329.37,186.51 L329.82,186.79 L330.28,187.06 L330.73,187.33 L331.18,187.60 L331.63,187.87 L332.08,188.13 L332.53,188.39 L332.99,188.66 L333.44,188.91 L333.89,189.17 L334.34,189.42 L334.79,189.68 L335.24,189.93 L335.70,190.18 L336.15,190.42 L336.60,190.67 L337.05,190.91 L337.50,191.15 L337.95,191.39 L338.41,191.62 L338.86,191.86 L339.31,192.09 L339.76,192.32 L340.21,192.55 L340.66,192.78 L341.12,193.01 L341.57,193.23 L342.02,193.45 L342.47,193.67 L342.92,193.89 L343.38,194.11 L343.83,194.33 L344.28,194.54 L344.73,194.75 L345.18,194.96 L345.63,195.17 L346.09,195.38 L346.54,195.59 L346.99,195.79 L347.44,195.99 L347.89,196.19 L348.34,196.39 L348.80,196.59 L349.25,196.79 L349.70,196.98 L350.15,197.18 L350.60,197.37 L351.05,197.56 L351.51,197.75 L351.96,197.94 L352.41,198.12 L352.86,198.31 L353.31,198.49 L353.76,198.67 L354.22,198.85 L354.67,199.03 L355.12,199.21 L355.57,199.39 L356.02,199.56 L356.47,199.74 L356.93,199.91 L357.38,200.08 L357.83,200.25 L358.28,200.42 L358.73,200.59 L359.18,200.76 L359.64,200.92 L360.09,201.09 L360.54,201.25 L360.99,201.41 L361.44,201.57 L361.89,201.73 L362.35,201.89 L362.80,202.05 L363.25,202.20 L363.70,202.36 L364.15,202.51 L364.60,202.66 L365.06,202.81 L365.51,202.96 L365.96,203.11 L366.41,203.26 L366.86,203.41 L367.31,203.55 L367.77,203.70 L368.22,203.84 L368.67,203.98 L369.12,204.13 L369.57,204.27 L370.02,204.41 L370.48,204.54 L370.93,204.68 L371.38,204.82 L371.83,204.95 L372.28,205.09 L372.73,205.22 L373.19,205.35 L373.64,205.49 L374.09,205.62 L374.54,205.75 L374.99,205.88 L375.45,206.00 L375.90,206.13 L376.35,206.26 L376.80,206.38 L377.25,206.51 L377.70,206.63 L378.16,206.75 L378.61,206.87 L379.06,206.99 L379.51,207.11 L379.96,207.23 L380.41,207.35 L380.87,207.47 L381.32,207.58 L381.77,207.70 L382.22,207.81 L382.67,207.93 L383.12,208.04 L383.58,208.15 L384.03,208.27 L384.48,208.38 L384.93,208.49 L385.38,208.60 L385.83,208.70 L386.29,208.81 L386.74,208.92 L387.19,209.03 L387.64,209.13 L388.09,209.24 L388.54,209.34 L389.00,209.44 L389.45,209.55 L389.90,209.65 L390.35,209.75 L390.80,209.85 L391.25,209.95 L391.71,210.05 L392.16,210.15 L392.61,210.24 L393.06,210.34 L393.51,210.44 L393.96,210.53 L394.42,210.63 L394.87,210.72 L395.32,210.81 L395.77,210.91 L396.22,211.00 L396.67,211.09 L397.13,211.18 L397.58,211.27 L398.03,211.36 L398.48,211.45 L398.93,211.54 L399.38,211.63 L399.84,211.71 L400.29,211.80 L400.74,211.89 L401.19,211.97 L401.64,212.06 L402.09,212.14 L402.55,212.23 L403.00,212.31 L403.45,212.39 L403.90,212.47 L404.35,212.55 L404.80,212.63 L405.26,212.72 L405.71,212.79 L406.16,212.87 L406.61,212.95 L407.06,213.03 L407.52,213.11 L407.97,213.19 L408.42,213.26 L408.87,213.34 L409.32,213.41 L409.77,213.49 L410.23,213.56 L410.68,213.64 L411.13,213.71 L411.58,213.78 L412.03,213.86 L412.48,213.93 L412.94,214.00 L413.39,214.07 L413.84,214.14 L414.29,214.21 L414.74,214.28 L415.19,214.35 L415.65,214.42 L416.10,214.48 L416.55,214.55 L417.00,214.62 L417.45,214.69 L417.90,214.75 L418.36,214.82 L418.81,214.88 L419.26,214.95 L419.71,215.01 L420.16,215.08 L420.61,215.14 L421.07,215.20 L421.52,215.27 L421.97,215.33 L422.42,215.39 L422.87,215.45 L423.32,215.51 L423.78,215.57 L424.23,215.63 L424.68,215.69 L425.13,215.75 L425.58,215.81 L426.03,215.87 L426.49,215.93 L426.94,215.99 L427.39,216.04 L427.84,216.10 L428.29,216.16 L428.74,216.21 L429.20,216.27 L429.65,216.33 L430.10,216.38 L430.55,216.44 L431.00,216.49 L431.45,216.54 L431.91,216.60 L432.36,216.65 L432.81,216.70 L433.26,216.76 L433.71,216.81 L434.16,216.86 L434.62,216.91 L435.07,216.96 L435.52,217.01 L435.97,217.07 L436.42,217.12 L436.87,217.17 L437.33,217.22 L437.78,217.26 L438.23,217.31 L438.68,217.36 L439.13,217.41 L439.59,217.46 L440.04,217.51 L440.49,217.55 L440.94,217.60 L441.39,217.65 L441.84,217.69 L442.30,217.74 L442.75,217.78 L443.20,217.83 L443.65,217.87 L444.10,217.92 L444.55,217.96 L445.01,218.01 L445.46,218.05 L445.91,218.10 L446.36,218.14 L446.81,218.18 L447.26,218.23 L447.72,218.27 L448.17,218.31 L448.62,218.35 L449.07,218.39 L449.52,218.43 L449.97,218.48 L450.43,218.52 L450.88,218.56 L451.33,218.60 L451.78,218.64 L452.23,218.68 L452.68,218.72 L453.14,218.76 L453.59,218.79 L454.04,218.83 L454.49,218.87 L454.94,218.91 L455.39,218.95 L455.85,218.99 L456.30,219.02 L456.75,219.06 L457.20,219.10 L457.65,219.13 L458.10,219.17 L458.56,219.21 L459.01,219.24 L459.46,219.28 L459.91,219.31 L460.36,219.35 L460.81,219.38 L461.27,219.42 L461.72,219.45 L462.17,219.49 L462.62,219.52 L463.07,219.56 L463.52,219.59 L463.98,219.62 L464.43,219.66 L464.88,219.69 L465.33,219.72 L465.78,219.76 L466.23,219.79 L466.69,219.82 L467.14,219.85 L467.59,219.88 L468.04,219.92 L468.49,219.95 L468.94,219.98 L469.40,220.01 L469.85,220.04 L470.30,220.07 L470.75,220.10 L471.20,220.13 L471.65,220.16 L472.11,220.19 L472.56,220.22 L473.01,220.25 L473.46,220.28 L473.91,220.31 L474.37,220.34 L474.82,220.36 L475.27,220.39 L475.72,220.42 L476.17,220.45 L476.62,220.48 L477.08,220.50 L477.53,220.53 L477.98,220.56 L478.43,220.59 L478.88,220.61 L479.33,220.64 L479.79,220.67 L480.24,220.69 L480.69,220.72 L481.14,220.75 L481.59,220.77 L482.04,220.80 L482.50,220.82 L482.95,220.85 L483.40,220.87 L483.85,220.90 L484.30,220.92 L484.75,220.95 L485.21,220.97 L485.66,221.00 L486.11,221.02 L486.56,221.05 L487.01,221.07 L487.46,221.09 L487.92,221.12 L488.37,221.14 L488.82,221.16 L489.27,221.19 L489.72,221.21 L490.17,221.23 L490.63,221.26 L491.08,221.28 L491.53,221.30 L491.98,221.32 L492.43,221.35 L492.88,221.37 L493.34,221.39 L493.79,221.41 L494.24,221.43 L494.69,221.45 L495.14,221.48 L495.59,221.50 L496.05,221.52 L496.50,221.54 L496.95,221.56 L497.40,221.58 L497.85,221.60 L498.30,221.62 L498.76,221.64 L499.21,221.66 L499.66,221.68 L500.11,221.70 L500.56,221.72 L501.01,221.74 L501.47,221.76 L501.92,221.78 L502.37,221.80 L502.82,221.82 L503.27,221.84 L503.72,221.86 L504.18,221.87 L504.63,221.89 L505.08,221.91 L505.53,221.93 L505.98,221.95 L506.44,221.97 L506.89,221.98 L507.34,222.00 L507.79,222.02 L508.24,222.04 L508.69,222.06 L509.15,222.07 L509.60,222.09 L510.05,222.11 L510.50,222.12 L510.95,222.14 L511.40,222.16 L511.86,222.18 L512.31,222.19 L512.76,222.21 L513.21,222.22 L513.66,222.24 L514.11,222.26 L514.57,222.27 L515.02,222.29 L515.47,222.31 L515.92,222.32 L516.37,222.34 L516.82,222.35 L517.28,222.37 L517.73,222.38 L518.18,222.40 L518.63,222.41 L519.08,222.43 L519.53,222.44 L519.99,222.46 L520.44,222.47 L520.89,222.49 L521.34,222.50 L521.79,222.52 L522.24,222.53 L522.70,222.55 L523.15,222.56 L523.60,222.58 L524.05,222.59 L524.50,222.60 L524.95,222.62 L525.41,222.63 L525.86,222.64 L526.31,222.66 L526.76,222.67 L527.21,222.69 L527.66,222.70 L528.12,222.71 L528.57,222.73 L529.02,222.74 L529.47,222.75 L529.92,222.76 L530.37,222.78 L530.83,222.79 L531.28,222.80 L531.73,222.82 L532.18,222.83 L532.63,222.84 L533.08,222.85 L533.54,222.87 L533.99,222.88 L534.44,222.89 L534.89,222.90 L535.34,222.91 L535.79,222.93 L536.25,222.94 L536.70,222.95 L537.15,222.96 L537.60,222.97 L538.05,222.98 L538.51,223.00 L538.96,223.01 L539.41,223.02 L539.86,223.03 L540.31,223.04 L540.76,223.05 L541.22,223.06 L541.67,223.07 L542.12,223.08 L542.57,223.10 L543.02,223.11 L543.47,223.12 L543.93,223.13 L544.38,223.14 L544.83,223.15 L545.28,223.16 L545.73,223.17 L546.18,223.18 L546.64,223.19 L547.09,223.20 L547.54,223.21 L547.99,223.22 L548.44,223.23 L548.89,223.24 L549.35,223.25 L549.80,223.26 L550.25,223.27 L550.70,223.28 L551.15,223.29 L551.60,223.30 L552.06,223.31 L552.51,223.32 L552.96,223.33 L553.41,223.34 L553.86,223.34 L554.31,223.35 L554.77,223.36 L555.22,223.37 L555.67,223.38 L556.12,223.39 L556.57,223.40 L557.02,223.41 L557.48,223.42 L557.93,223.43 L558.38,223.43 L558.83,223.44 L559.28,223.45 L559.73,223.46 L560.19,223.47 L560.64,223.48 L561.09,223.48 L561.54,223.49 L561.99,223.50 L562.44,223.51 L562.90,223.52 L563.35,223.53 L563.80,223.53 L564.25,223.54 L564.70,223.55 L565.15,223.56 L565.61,223.56 L566.06,223.57 L566.51,223.58 L566.96,223.59 L567.41,223.60 L567.86,223.60 L568.32,223.61 L568.77,223.62 L569.22,223.63 L569.67,223.63 L570.12,223.64 L570.58,223.65 L571.03,223.65 L571.48,223.66 L571.93,223.67 L572.38,223.68 L572.83,223.68 L573.29,223.69 L573.74,223.70 L574.19,223.70 L574.64,223.71 L575.09,223.72 L575.54,223.72 L576.00,223.73 L576.45,223.74 L576.90,223.74 L577.35,223.75 L577.80,223.76 L578.25,223.76 L578.71,223.77 L579.16,223.78 L579.61,223.78 L580.06,223.79 L580.51,223.80 L580.96,223.80 L581.42,223.81 L581.87,223.82 L582.32,223.82 L582.77,223.83 L583.22,223.83 L583.67,223.84 L584.13,223.85 L584.58,223.85 L585.03,223.86 L585.48,223.86 L585.93,223.87 L586.38,223.88 L586.84,223.88 L587.29,223.89 L587.74,223.89 L588.19,223.90 L588.64,223.90 L589.09,223.91 L589.55,223.91 L590.00,223.92 L590.45,223.93 L590.90,223.93 L591.35,223.94 L591.80,223.94 L592.26,223.95 L592.71,223.95 L593.16,223.96 L593.61,223.96 L594.06,223.97 L594.51,223.97 L594.97,223.98 L595.42,223.98 L595.87,223.99 L596.32,223.99 L596.77,224.00 L597.22,224.00 L597.68,224.01 L598.13,224.01 L598.58,224.02 L599.03,224.02 L599.48,224.03 L599.93,224.03 L600.39,224.04 L600.84,224.04 L601.29,224.05 L601.74,224.05 L602.19,224.06 L602.65,224.06 L603.10,224.07 L603.55,224.07 L604.00,224.08 L604.45,224.08 L604.90,224.08 L605.36,224.09 L605.81,224.09 L606.26,224.10 L606.71,224.10 L607.16,224.11 L607.61,224.11 L608.07,224.11 L608.52,224.12 L608.97,224.12 L609.42,224.13 L609.87,224.13 L610.32,224.14 L610.78,224.14 L611.23,224.14 L611.68,224.15 L612.13,224.15 L612.58,224.16 L613.03,224.16 L613.49,224.16 L613.94,224.17 L614.39,224.17 L614.84,224.18 L615.29,224.18 L615.74,224.18 L616.20,224.19 L616.65,224.19 L617.10,224.20 L617.55,224.20 L618.00,224.20 L618.45,224.21 L618.91,224.21 L619.36,224.21 L619.81,224.22 L620.26,224.22 L620.71,224.22 L621.16,224.23 L621.62,224.23 L622.07,224.24 L622.52,224.24 L622.97,224.24 L623.42,224.25 L623.87,224.25 L624.33,224.25 L624.78,224.26 L625.23,224.26 L625.68,224.26 L626.13,224.27 L626.58,224.27 L627.04,224.27 L627.49,224.28 L627.94,224.28 L628.39,224.28 L628.84,224.29 L629.29,224.29 L629.75,224.29 L630.20,224.29 L630.65,224.30 L631.10,224.30 L631.55,224.30 L632.00,224.31 L632.46,224.31 L632.91,224.31 L633.36,224.32 L633.81,224.32 L634.26,224.32 L634.71,224.33 L635.17,224.33 L635.62,224.33 L636.07,224.33 L636.52,224.34 L636.97,224.34 L637.43,224.34 L637.88,224.35 L638.33,224.35 L638.78,224.35 L639.23,224.35 L639.68,224.36 L640.14,224.36 L640.59,224.36 L641.04,224.36 L641.49,224.37 L641.94,224.37 L642.39,224.37 L642.85,224.37 L643.30,224.38 L643.75,224.38 L644.20,224.38 L644.65,224.39 L645.10,224.39 L645.56,224.39 L646.01,224.39 L646.46,224.40 L646.91,224.40 L647.36,224.40 L647.81,224.40 L648.27,224.41 L648.72,224.41 L649.17,224.41 L649.62,224.41 L650.07,224.41 L650.52,224.42 L650.98,224.42 L651.43,224.42 L651.88,224.42 L652.33,224.43 L652.78,224.43 L653.23,224.43 L653.69,224.43 L654.14,224.44 L654.59,224.44 L655.04,224.44 L655.49,224.44 L655.94,224.44 L656.40,224.45 L656.85,224.45 L657.30,224.45 L657.75,224.45 L658.20,224.45 L658.65,224.46 L659.11,224.46 L659.56,224.46 L660.01,224.46 L660.46,224.47 L660.91,224.47 L661.36,224.47 L661.82,224.47 L662.27,224.47 L662.72,224.48 L663.17,224.48 L663.62,224.48 L664.07,224.48 L664.53,224.48 L664.98,224.49 L665.43,224.49 L665.88,224.49 L666.33,224.49 L666.78,224.49 L667.24,224.49 L667.69,224.50 L668.14,224.50 L668.59,224.50 L669.04,224.50 L669.50,224.50 L669.95,224.51 L670.40,224.51 L670.85,224.51 L671.30,224.51 L671.75,224.51 L672.21,224.51 L672.66,224.52 L673.11,224.52 L673.56,224.52 L674.01,224.52 L674.46,224.52 L674.92,224.52 L675.37,224.53 L675.82,224.53 L676.27,224.53 L676.72,224.53 L677.17,224.53 L677.63,224.53 L678.08,224.54 L678.53,224.54 L678.98,224.54 L679.43,224.54 L679.88,224.54 L680.34,224.54 L680.79,224.55 L681.24,224.55 L681.69,224.55 L682.14,224.55 L682.59,224.55 L683.05,224.55 L683.50,224.55 L683.95,224.56 L684.40,224.56 L684.85,224.56 L685.30,224.56 L685.76,224.56 L686.21,224.56 L686.66,224.56 L687.11,224.57 L687.56,224.57 L688.01,224.57 L688.47,224.57 L688.92,224.57 L689.37,224.57 L689.82,224.57 L690.27,224.58 L690.72,224.58 L691.18,224.58 L691.63,224.58 L692.08,224.58 L692.53,224.58 L692.98,224.58 L693.43,224.58 L693.89,224.59 L694.34,224.59 L694.79,224.59 L695.24,224.59 L695.69,224.59 L696.14,224.59 L696.60,224.59 L697.05,224.59 L697.50,224.60 L697.95,224.60 L698.40,224.60 L698.85,224.60 L699.31,224.60 L699.76,224.60 L700.21,224.60 L700.66,224.60 L701.11,224.61 L701.57,224.61 L702.02,224.61 L702.47,224.61 L702.92,224.61 L703.37,224.61 L703.82,224.61 L704.28,224.61 L704.73,224.61 L705.18,224.62 L705.63,224.62 L706.08,224.62 L706.53,224.62 L706.99,224.62 L707.44,224.62 L707.89,224.62 L708.34,224.62 L708.79,224.62 L709.24,224.62 L709.70,224.63 L710.15,224.63 L710.60,224.63 L711.05,224.63 L711.50,224.63 L711.95,224.63 L712.41,224.63 L712.86,224.63 L713.31,224.63 L713.76,224.63 L714.21,224.64 L714.66,224.64 L715.12,224.64 L715.57,224.64 L716.02,224.64 L716.47,224.64 L716.92,224.64 L717.37,224.64 L717.83,224.64 L718.28,224.64 L718.73,224.65 L719.18,224.65 L719.63,224.65 L720.08,224.65 L720.54,224.65 L720.99,224.65 L721.44,224.65 L721.89,224.65 L722.34,224.65 L722.79,224.65 L723.25,224.65 L723.70,224.65 L724.15,224.66 L724.60,224.66 L725.05,224.66 L725.50,224.66 L725.96,224.66 L726.41,224.66 L726.86,224.66 L727.31,224.66 L727.76,224.66 L728.21,224.66 L728.67,224.66 L729.12,224.66 L729.57,224.67 L730.02,224.67 L730.47,224.67 L730.92,224.67 L731.38,224.67 L731.83,224.67 L732.28,224.67 L732.73,224.67 L733.18,224.67 L733.64,224.67 L734.09,224.67 L734.54,224.67 L734.99,224.67 L735.44,224.67 L735.89,224.68 L736.35,224.68 L736.80,224.68 L737.25,224.68 L737.70,224.68 L738.15,224.68 L738.60,224.68 L739.06,224.68 L739.51,224.68 L739.96,224.68 L740.41,224.68 L740.86,224.68 L741.31,224.68 L741.77,224.68 L742.22,224.69 L742.67,224.69 L743.12,224.69 L743.57,224.69 L744.02,224.69 L744.48,224.69 L744.93,224.69 L745.38,224.69 L745.83,224.69 L746.28,224.69 L746.73,224.69 L747.19,224.69 L747.64,224.69 L748.09,224.69 L748.54,224.69 L748.99,224.69 L749.44,224.69 L749.90,224.70 L750.35,224.70 L750.80,224.70 L751.25,224.70 L751.70,224.70 L752.15,224.70 L752.61,224.70" stroke="#000" stroke-width="3.80" stroke-dasharray="5.800 3.252" stroke-dashoffset="3.02"/>
</g>
<line x1="175.40" y1="582.50" x2="745.48" y2="582.50" stroke="#cbcbcb" stroke-width="1.3"/>
<g clip-path="url(#cb)" fill="none" stroke-linejoin="round">
<path d="M175.40,582.71 L176.36,584.25 L177.31,585.79 L178.26,587.33 L179.21,588.87 L180.16,590.41 L181.11,591.94 L182.07,593.48 L183.02,595.01 L183.97,596.54 L184.92,598.07 L185.87,599.59 L186.82,601.11 L187.78,602.63 L188.73,604.15 L189.68,605.66 L190.63,607.16 L191.58,608.66 L192.53,610.16 L193.49,611.65 L194.44,613.13 L195.39,614.61 L196.34,616.09 L197.29,617.55 L198.24,619.01 L199.20,620.47 L200.15,621.91 L201.10,623.35 L202.05,624.79 L203.00,626.21 L203.95,627.62 L204.91,629.03 L205.86,630.43 L206.81,631.82 L207.76,633.20 L208.71,634.57 L209.67,635.93 L210.62,637.28 L211.57,638.62 L212.52,639.95 L213.47,641.27 L214.42,642.58 L215.38,643.88 L216.33,645.17 L217.28,646.45 L218.23,647.71 L219.18,648.96 L220.13,650.21 L221.09,651.43 L222.04,652.65 L222.99,653.85 L223.94,655.05 L224.89,656.23 L225.84,657.39 L226.80,658.54 L227.75,659.68 L228.70,660.81 L229.65,661.92 L230.60,663.02 L231.55,664.10 L232.51,665.17 L233.46,666.23 L234.41,667.27 L235.36,668.30 L236.31,669.31 L237.26,670.31 L238.22,671.30 L239.17,672.26 L240.12,673.22 L241.07,674.16 L242.02,675.08 L242.98,675.99 L243.93,676.88 L244.88,677.76 L245.83,678.62 L246.78,679.47 L247.73,680.30 L248.69,681.12 L249.64,681.91 L250.59,682.70 L251.54,683.47 L252.49,684.22 L253.44,684.96 L254.40,685.68 L255.35,686.38 L256.30,687.07 L257.25,687.74 L258.20,688.40 L259.15,689.04 L260.11,689.66 L261.06,690.27 L262.01,690.86 L262.96,691.44 L263.91,692.00 L264.86,692.54 L265.82,693.07 L266.77,693.58 L267.72,694.08 L268.67,694.56 L269.62,695.02 L270.57,695.47 L271.53,695.90 L272.48,696.31 L273.43,696.71 L274.38,697.10 L275.33,697.46 L276.29,697.82 L277.24,698.15 L278.19,698.47 L279.14,698.78 L280.09,699.07 L281.04,699.34 L282.00,699.60 L282.95,699.84 L283.90,700.07 L284.85,700.28 L285.80,700.48 L286.75,700.66 L287.71,700.83 L288.66,700.98 L289.61,701.12 L290.56,701.24 L291.51,701.35 L292.46,701.45 L293.42,701.52 L294.37,701.59 L295.32,701.64 L296.27,701.67 L297.22,701.70 L298.17,701.70 L299.13,701.70 L300.08,701.68 L301.03,701.64 L301.98,701.59 L302.93,701.53 L303.88,701.46 L304.84,701.37 L305.79,701.27 L306.74,701.15 L307.69,701.02 L308.64,700.88 L309.60,700.73 L310.55,700.56 L311.50,700.38 L312.45,700.19 L313.40,699.98 L314.35,699.77 L315.31,699.54 L316.26,699.30 L317.21,699.05 L318.16,698.78 L319.11,698.51 L320.06,698.22 L321.02,697.92 L321.97,697.61 L322.92,697.29 L323.87,696.95 L324.82,696.61 L325.77,696.25 L326.73,695.89 L327.68,695.51 L328.63,695.13 L329.58,694.73 L330.53,694.32 L331.48,693.90 L332.44,693.48 L333.39,693.04 L334.34,692.59 L335.29,692.13 L336.24,691.67 L337.19,691.19 L338.15,690.71 L339.10,690.21 L340.05,689.71 L341.00,689.20 L341.95,688.68 L342.91,688.15 L343.86,687.61 L344.81,687.06 L345.76,686.51 L346.71,685.94 L347.66,685.37 L348.62,684.79 L349.57,684.20 L350.52,683.61 L351.47,683.00 L352.42,682.39 L353.37,681.78 L354.33,681.15 L355.28,680.52 L356.23,679.88 L357.18,679.23 L358.13,678.58 L359.08,677.92 L360.04,677.25 L360.99,676.58 L361.94,675.90 L362.89,675.21 L363.84,674.52 L364.79,673.82 L365.75,673.12 L366.70,672.41 L367.65,671.69 L368.60,670.97 L369.55,670.24 L370.50,669.51 L371.46,668.77 L372.41,668.03 L373.36,667.28 L374.31,666.52 L375.26,665.77 L376.22,665.00 L377.17,664.23 L378.12,663.46 L379.07,662.68 L380.02,661.90 L380.97,661.11 L381.93,660.32 L382.88,659.53 L383.83,658.73 L384.78,657.93 L385.73,657.12 L386.68,656.31 L387.64,655.49 L388.59,654.67 L389.54,653.85 L390.49,653.03 L391.44,652.20 L392.39,651.37 L393.35,650.53 L394.30,649.69 L395.25,648.85 L396.20,648.00 L397.15,647.16 L398.10,646.31 L399.06,645.45 L400.01,644.60 L400.96,643.74 L401.91,642.88 L402.86,642.01 L403.81,641.15 L404.77,640.28 L405.72,639.41 L406.67,638.53 L407.62,637.66 L408.57,636.78 L409.53,635.90 L410.48,635.02 L411.43,634.14 L412.38,633.26 L413.33,632.37 L414.28,631.48 L415.24,630.59 L416.19,629.70 L417.14,628.81 L418.09,627.92 L419.04,627.02 L419.99,626.12 L420.95,625.23 L421.90,624.33 L422.85,623.43 L423.80,622.53 L424.75,621.63 L425.70,620.72 L426.66,619.82 L427.61,618.92 L428.56,618.01 L429.51,617.11 L430.46,616.20 L431.41,615.29 L432.37,614.39 L433.32,613.48 L434.27,612.57 L435.22,611.66 L436.17,610.75 L437.12,609.84 L438.08,608.93 L439.03,608.02 L439.98,607.11 L440.93,606.20 L441.88,605.29 L442.84,604.38 L443.79,603.47 L444.74,602.56 L445.69,601.65 L446.64,600.74 L447.59,599.83 L448.55,598.92 L449.50,598.01 L450.45,597.10 L451.40,596.20 L452.35,595.29 L453.30,594.38 L454.26,593.47 L455.21,592.57 L456.16,591.66 L457.11,590.75 L458.06,589.85 L459.01,588.94 L459.97,588.04 L460.92,587.14 L461.87,586.24 L462.82,585.33 L463.77,584.43 L464.72,583.53 L465.68,582.63 L466.63,581.73 L467.58,580.84 L468.53,579.94 L469.48,579.05 L470.43,578.15 L471.39,577.26 L472.34,576.36 L473.29,575.47 L474.24,574.58 L475.19,573.69 L476.15,572.80 L477.10,571.92 L478.05,571.03 L479.00,570.15 L479.95,569.26 L480.90,568.38 L481.86,567.50 L482.81,566.62 L483.76,565.74 L484.71,564.87 L485.66,563.99 L486.61,563.12 L487.57,562.24 L488.52,561.37 L489.47,560.50 L490.42,559.63 L491.37,558.77 L492.32,557.90 L493.28,557.04 L494.23,556.17 L495.18,555.31 L496.13,554.45 L497.08,553.60 L498.03,552.74 L498.99,551.88 L499.94,551.03 L500.89,550.18 L501.84,549.33 L502.79,548.48 L503.74,547.64 L504.70,546.79 L505.65,545.95 L506.60,545.11 L507.55,544.27 L508.50,543.43 L509.46,542.59 L510.41,541.76 L511.36,540.93 L512.31,540.09 L513.26,539.26 L514.21,538.44 L515.17,537.61 L516.12,536.79 L517.07,535.97 L518.02,535.15 L518.97,534.33 L519.92,533.51 L520.88,532.70 L521.83,531.88 L522.78,531.07 L523.73,530.26 L524.68,529.46 L525.63,528.65 L526.59,527.85 L527.54,527.05 L528.49,526.25 L529.44,525.45 L530.39,524.65 L531.34,523.86 L532.30,523.07 L533.25,522.28 L534.20,521.49 L535.15,520.70 L536.10,519.92 L537.05,519.14 L538.01,518.36 L538.96,517.58 L539.91,516.80 L540.86,516.03 L541.81,515.26 L542.77,514.49 L543.72,513.72 L544.67,512.95 L545.62,512.19 L546.57,511.43 L547.52,510.67 L548.48,509.91 L549.43,509.15 L550.38,508.40 L551.33,507.65 L552.28,506.90 L553.23,506.15 L554.19,505.40 L555.14,504.66 L556.09,503.91 L557.04,503.17 L557.99,502.44 L558.94,501.70 L559.90,500.97 L560.85,500.23 L561.80,499.50 L562.75,498.78 L563.70,498.05 L564.65,497.33 L565.61,496.60 L566.56,495.88 L567.51,495.17 L568.46,494.45 L569.41,493.74 L570.36,493.02 L571.32,492.31 L572.27,491.61 L573.22,490.90 L574.17,490.20 L575.12,489.49 L576.07,488.79 L577.03,488.10 L577.98,487.40 L578.93,486.71 L579.88,486.01 L580.83,485.32 L581.79,484.64 L582.74,483.95 L583.69,483.27 L584.64,482.58 L585.59,481.90 L586.54,481.23 L587.50,480.55 L588.45,479.88 L589.40,479.20 L590.35,478.53 L591.30,477.87 L592.25,477.20 L593.21,476.54 L594.16,475.87 L595.11,475.21 L596.06,474.56 L597.01,473.90 L597.96,473.24 L598.92,472.59 L599.87,471.94 L600.82,471.29 L601.77,470.65 L602.72,470.00 L603.67,469.36 L604.63,468.72 L605.58,468.08 L606.53,467.44 L607.48,466.81 L608.43,466.18 L609.38,465.54 L610.34,464.91 L611.29,464.29 L612.24,463.66 L613.19,463.04 L614.14,462.42 L615.10,461.80 L616.05,461.18 L617.00,460.56 L617.95,459.95 L618.90,459.34 L619.85,458.73 L620.81,458.12 L621.76,457.51 L622.71,456.91 L623.66,456.30 L624.61,455.70 L625.56,455.10 L626.52,454.51 L627.47,453.91 L628.42,453.32 L629.37,452.72 L630.32,452.13 L631.27,451.55 L632.23,450.96 L633.18,450.37 L634.13,449.79 L635.08,449.21 L636.03,448.63 L636.98,448.05 L637.94,447.48 L638.89,446.90 L639.84,446.33 L640.79,445.76 L641.74,445.19 L642.69,444.62 L643.65,444.06 L644.60,443.50 L645.55,442.93 L646.50,442.37 L647.45,441.82 L648.41,441.26 L649.36,440.70 L650.31,440.15 L651.26,439.60 L652.21,439.05 L653.16,438.50 L654.12,437.96 L655.07,437.41 L656.02,436.87 L656.97,436.33 L657.92,435.79 L658.87,435.25 L659.83,434.71 L660.78,434.18 L661.73,433.65 L662.68,433.12 L663.63,432.59 L664.58,432.06 L665.54,431.53 L666.49,431.01 L667.44,430.48 L668.39,429.96 L669.34,429.44 L670.29,428.92 L671.25,428.41 L672.20,427.89 L673.15,427.38 L674.10,426.87 L675.05,426.36 L676.00,425.85 L676.96,425.34 L677.91,424.84 L678.86,424.33 L679.81,423.83 L680.76,423.33 L681.72,422.83 L682.67,422.33 L683.62,421.84 L684.57,421.34 L685.52,420.85 L686.47,420.36 L687.43,419.87 L688.38,419.38 L689.33,418.89 L690.28,418.40 L691.23,417.92 L692.18,417.44 L693.14,416.96 L694.09,416.48 L695.04,416.00 L695.99,415.52 L696.94,415.05 L697.89,414.57 L698.85,414.10 L699.80,413.63 L700.75,413.16 L701.70,412.69 L702.65,412.23 L703.60,411.76 L704.56,411.30 L705.51,410.83 L706.46,410.37 L707.41,409.91 L708.36,409.46 L709.31,409.00 L710.27,408.54 L711.22,408.09 L712.17,407.64 L713.12,407.19 L714.07,406.74 L715.03,406.29 L715.98,405.84 L716.93,405.40 L717.88,404.95 L718.83,404.51 L719.78,404.07 L720.74,403.63 L721.69,403.19 L722.64,402.75 L723.59,402.31 L724.54,401.88 L725.49,401.45 L726.45,401.01 L727.40,400.58 L728.35,400.15 L729.30,399.72 L730.25,399.30 L731.20,398.87 L732.16,398.45 L733.11,398.02 L734.06,397.60 L735.01,397.18 L735.96,396.76 L736.91,396.34 L737.87,395.93 L738.82,395.51 L739.77,395.10 L740.72,394.68 L741.67,394.27 L742.62,393.86 L743.58,393.45 L744.53,393.04 L745.48,392.64" stroke="#000" stroke-width="3.1"/>
</g>
<g stroke="#000" stroke-width="1.70" fill="none">
<line x1="211.03" y1="18.20" x2="211.03" y2="22.20"/>
<line x1="211.03" y1="370.80" x2="211.03" y2="366.80"/>
<line x1="211.03" y1="370.80" x2="211.03" y2="374.80"/>
<line x1="211.03" y1="723.40" x2="211.03" y2="719.40"/>
<line x1="246.66" y1="18.20" x2="246.66" y2="22.20"/>
<line x1="246.66" y1="370.80" x2="246.66" y2="366.80"/>
<line x1="246.66" y1="370.80" x2="246.66" y2="374.80"/>
<line x1="246.66" y1="723.40" x2="246.66" y2="719.40"/>
<line x1="282.29" y1="18.20" x2="282.29" y2="22.20"/>
<line x1="282.29" y1="370.80" x2="282.29" y2="366.80"/>
<line x1="282.29" y1="370.80" x2="282.29" y2="374.80"/>
<line x1="282.29" y1="723.40" x2="282.29" y2="719.40"/>
<line x1="317.92" y1="18.20" x2="317.92" y2="22.20"/>
<line x1="317.92" y1="370.80" x2="317.92" y2="366.80"/>
<line x1="317.92" y1="370.80" x2="317.92" y2="374.80"/>
<line x1="317.92" y1="723.40" x2="317.92" y2="719.40"/>
<line x1="353.55" y1="18.20" x2="353.55" y2="25.20"/>
<line x1="353.55" y1="370.80" x2="353.55" y2="363.80"/>
<line x1="353.55" y1="370.80" x2="353.55" y2="377.80"/>
<line x1="353.55" y1="723.40" x2="353.55" y2="716.40"/>
<line x1="389.18" y1="18.20" x2="389.18" y2="22.20"/>
<line x1="389.18" y1="370.80" x2="389.18" y2="366.80"/>
<line x1="389.18" y1="370.80" x2="389.18" y2="374.80"/>
<line x1="389.18" y1="723.40" x2="389.18" y2="719.40"/>
<line x1="424.81" y1="18.20" x2="424.81" y2="22.20"/>
<line x1="424.81" y1="370.80" x2="424.81" y2="366.80"/>
<line x1="424.81" y1="370.80" x2="424.81" y2="374.80"/>
<line x1="424.81" y1="723.40" x2="424.81" y2="719.40"/>
<line x1="460.44" y1="18.20" x2="460.44" y2="22.20"/>
<line x1="460.44" y1="370.80" x2="460.44" y2="366.80"/>
<line x1="460.44" y1="370.80" x2="460.44" y2="374.80"/>
<line x1="460.44" y1="723.40" x2="460.44" y2="719.40"/>
<line x1="496.07" y1="18.20" x2="496.07" y2="22.20"/>
<line x1="496.07" y1="370.80" x2="496.07" y2="366.80"/>
<line x1="496.07" y1="370.80" x2="496.07" y2="374.80"/>
<line x1="496.07" y1="723.40" x2="496.07" y2="719.40"/>
<line x1="531.70" y1="18.20" x2="531.70" y2="25.20"/>
<line x1="531.70" y1="370.80" x2="531.70" y2="363.80"/>
<line x1="531.70" y1="370.80" x2="531.70" y2="377.80"/>
<line x1="531.70" y1="723.40" x2="531.70" y2="716.40"/>
<line x1="567.33" y1="18.20" x2="567.33" y2="22.20"/>
<line x1="567.33" y1="370.80" x2="567.33" y2="366.80"/>
<line x1="567.33" y1="370.80" x2="567.33" y2="374.80"/>
<line x1="567.33" y1="723.40" x2="567.33" y2="719.40"/>
<line x1="602.96" y1="18.20" x2="602.96" y2="22.20"/>
<line x1="602.96" y1="370.80" x2="602.96" y2="366.80"/>
<line x1="602.96" y1="370.80" x2="602.96" y2="374.80"/>
<line x1="602.96" y1="723.40" x2="602.96" y2="719.40"/>
<line x1="638.59" y1="18.20" x2="638.59" y2="22.20"/>
<line x1="638.59" y1="370.80" x2="638.59" y2="366.80"/>
<line x1="638.59" y1="370.80" x2="638.59" y2="374.80"/>
<line x1="638.59" y1="723.40" x2="638.59" y2="719.40"/>
<line x1="674.22" y1="18.20" x2="674.22" y2="22.20"/>
<line x1="674.22" y1="370.80" x2="674.22" y2="366.80"/>
<line x1="674.22" y1="370.80" x2="674.22" y2="374.80"/>
<line x1="674.22" y1="723.40" x2="674.22" y2="719.40"/>
<line x1="709.85" y1="18.20" x2="709.85" y2="25.20"/>
<line x1="709.85" y1="370.80" x2="709.85" y2="363.80"/>
<line x1="709.85" y1="370.80" x2="709.85" y2="377.80"/>
<line x1="709.85" y1="723.40" x2="709.85" y2="716.40"/>
<line x1="175.40" y1="355.46" x2="179.40" y2="355.46"/>
<line x1="745.48" y1="355.46" x2="741.48" y2="355.46"/>
<line x1="175.40" y1="340.13" x2="179.40" y2="340.13"/>
<line x1="745.48" y1="340.13" x2="741.48" y2="340.13"/>
<line x1="175.40" y1="324.80" x2="182.40" y2="324.80"/>
<line x1="745.48" y1="324.80" x2="738.48" y2="324.80"/>
<line x1="175.40" y1="309.47" x2="179.40" y2="309.47"/>
<line x1="745.48" y1="309.47" x2="741.48" y2="309.47"/>
<line x1="175.40" y1="294.14" x2="179.40" y2="294.14"/>
<line x1="745.48" y1="294.14" x2="741.48" y2="294.14"/>
<line x1="175.40" y1="278.81" x2="179.40" y2="278.81"/>
<line x1="745.48" y1="278.81" x2="741.48" y2="278.81"/>
<line x1="175.40" y1="263.48" x2="182.40" y2="263.48"/>
<line x1="745.48" y1="263.48" x2="738.48" y2="263.48"/>
<line x1="175.40" y1="248.15" x2="179.40" y2="248.15"/>
<line x1="745.48" y1="248.15" x2="741.48" y2="248.15"/>
<line x1="175.40" y1="232.82" x2="179.40" y2="232.82"/>
<line x1="745.48" y1="232.82" x2="741.48" y2="232.82"/>
<line x1="175.40" y1="217.49" x2="179.40" y2="217.49"/>
<line x1="745.48" y1="217.49" x2="741.48" y2="217.49"/>
<line x1="175.40" y1="202.16" x2="182.40" y2="202.16"/>
<line x1="745.48" y1="202.16" x2="738.48" y2="202.16"/>
<line x1="175.40" y1="186.83" x2="179.40" y2="186.83"/>
<line x1="745.48" y1="186.83" x2="741.48" y2="186.83"/>
<line x1="175.40" y1="171.50" x2="179.40" y2="171.50"/>
<line x1="745.48" y1="171.50" x2="741.48" y2="171.50"/>
<line x1="175.40" y1="156.17" x2="179.40" y2="156.17"/>
<line x1="745.48" y1="156.17" x2="741.48" y2="156.17"/>
<line x1="175.40" y1="140.84" x2="182.40" y2="140.84"/>
<line x1="745.48" y1="140.84" x2="738.48" y2="140.84"/>
<line x1="175.40" y1="125.51" x2="179.40" y2="125.51"/>
<line x1="745.48" y1="125.51" x2="741.48" y2="125.51"/>
<line x1="175.40" y1="110.18" x2="179.40" y2="110.18"/>
<line x1="745.48" y1="110.18" x2="741.48" y2="110.18"/>
<line x1="175.40" y1="94.85" x2="179.40" y2="94.85"/>
<line x1="745.48" y1="94.85" x2="741.48" y2="94.85"/>
<line x1="175.40" y1="79.52" x2="182.40" y2="79.52"/>
<line x1="745.48" y1="79.52" x2="738.48" y2="79.52"/>
<line x1="175.40" y1="64.19" x2="179.40" y2="64.19"/>
<line x1="745.48" y1="64.19" x2="741.48" y2="64.19"/>
<line x1="175.40" y1="48.86" x2="179.40" y2="48.86"/>
<line x1="745.48" y1="48.86" x2="741.48" y2="48.86"/>
<line x1="175.40" y1="33.53" x2="179.40" y2="33.53"/>
<line x1="745.48" y1="33.53" x2="741.48" y2="33.53"/>
<line x1="175.40" y1="703.60" x2="179.40" y2="703.60"/>
<line x1="745.48" y1="703.60" x2="741.48" y2="703.60"/>
<line x1="175.40" y1="683.45" x2="182.40" y2="683.45"/>
<line x1="745.48" y1="683.45" x2="738.48" y2="683.45"/>
<line x1="175.40" y1="663.30" x2="179.40" y2="663.30"/>
<line x1="745.48" y1="663.30" x2="741.48" y2="663.30"/>
<line x1="175.40" y1="643.15" x2="179.40" y2="643.15"/>
<line x1="745.48" y1="643.15" x2="741.48" y2="643.15"/>
<line x1="175.40" y1="623.00" x2="179.40" y2="623.00"/>
<line x1="745.48" y1="623.00" x2="741.48" y2="623.00"/>
<line x1="175.40" y1="602.85" x2="179.40" y2="602.85"/>
<line x1="745.48" y1="602.85" x2="741.48" y2="602.85"/>
<line x1="175.40" y1="582.70" x2="182.40" y2="582.70"/>
<line x1="745.48" y1="582.70" x2="738.48" y2="582.70"/>
<line x1="175.40" y1="562.55" x2="179.40" y2="562.55"/>
<line x1="745.48" y1="562.55" x2="741.48" y2="562.55"/>
<line x1="175.40" y1="542.40" x2="179.40" y2="542.40"/>
<line x1="745.48" y1="542.40" x2="741.48" y2="542.40"/>
<line x1="175.40" y1="522.25" x2="179.40" y2="522.25"/>
<line x1="745.48" y1="522.25" x2="741.48" y2="522.25"/>
<line x1="175.40" y1="502.10" x2="179.40" y2="502.10"/>
<line x1="745.48" y1="502.10" x2="741.48" y2="502.10"/>
<line x1="175.40" y1="481.95" x2="182.40" y2="481.95"/>
<line x1="745.48" y1="481.95" x2="738.48" y2="481.95"/>
<line x1="175.40" y1="461.80" x2="179.40" y2="461.80"/>
<line x1="745.48" y1="461.80" x2="741.48" y2="461.80"/>
<line x1="175.40" y1="441.65" x2="179.40" y2="441.65"/>
<line x1="745.48" y1="441.65" x2="741.48" y2="441.65"/>
<line x1="175.40" y1="421.50" x2="179.40" y2="421.50"/>
<line x1="745.48" y1="421.50" x2="741.48" y2="421.50"/>
<line x1="175.40" y1="401.35" x2="179.40" y2="401.35"/>
<line x1="745.48" y1="401.35" x2="741.48" y2="401.35"/>
<line x1="175.40" y1="381.20" x2="182.40" y2="381.20"/>
<line x1="745.48" y1="381.20" x2="738.48" y2="381.20"/>
</g>
<g stroke="#000" stroke-width="2.00" fill="none" stroke-linecap="square">
<rect x="175.40" y="18.20" width="570.08" height="705.20"/>
<line x1="175.40" y1="370.80" x2="745.48" y2="370.80"/>
</g>
<g font-family="'Liberation Serif', serif" fill="#000" stroke="#000" stroke-width="0.45" stroke-linejoin="round" style="opacity:0.999;text-rendering:geometricPrecision">
<text transform="translate(169.90,28.10) scale(0.965,1)" font-size="29.9" text-anchor="end">1.2</text>
<text transform="translate(169.90,89.42) scale(0.965,1)" font-size="29.9" text-anchor="end">1.0</text>
<text transform="translate(169.90,150.74) scale(0.965,1)" font-size="29.9" text-anchor="end">0.8</text>
<text transform="translate(169.90,212.06) scale(0.965,1)" font-size="29.9" text-anchor="end">0.6</text>
<text transform="translate(169.90,273.38) scale(0.965,1)" font-size="29.9" text-anchor="end">0.4</text>
<text transform="translate(169.90,334.70) scale(0.965,1)" font-size="29.9" text-anchor="end">0.2</text>
<text transform="translate(169.90,391.10) scale(0.965,1)" font-size="29.9" text-anchor="end">0.10</text>
<text transform="translate(169.90,491.85) scale(0.965,1)" font-size="29.9" text-anchor="end">0.05</text>
<text transform="translate(169.90,592.60) scale(0.965,1)" font-size="29.9" text-anchor="end">0.00</text>
<text transform="translate(169.90,693.35) scale(0.965,1)" font-size="29.9" text-anchor="end">0.05</text>
<rect stroke="none" x="100.9" y="684.95" width="15.5" height="1.7"/>
<text transform="translate(175.40,756.40) scale(0.965,1)" font-size="29.9" text-anchor="middle">0</text>
<text transform="translate(353.55,756.40) scale(0.965,1)" font-size="29.9" text-anchor="middle">5</text>
<text transform="translate(531.70,756.40) scale(0.965,1)" font-size="29.9" text-anchor="middle">10</text>
<text transform="translate(709.85,756.40) scale(0.965,1)" font-size="29.9" text-anchor="middle">15</text>
<text x="0.19" y="24.32" font-size="33.6">(</text>
<text x="10.50" y="25.50" font-size="37.6">a</text>
<text x="29.57" y="24.32" font-size="33.6">)</text>
<text x="0.20" y="395.43" font-size="33.35">(</text>
<text transform="translate(12.27,396.10) scale(0.916,1)" font-size="35.9">b</text>
<text x="29.64" y="395.43" font-size="33.35">)</text>
<text x="393.30" y="814.00" font-size="43.5">e</text>
<text x="417.62" y="814.00" font-size="43.5">V</text>
<text x="458.87" y="814.00" font-size="43.5">k</text>
<text x="480.82" y="820.60" font-size="30.5">B</text>
<text x="502.32" y="814.00" font-size="43.5">T</text>
<polygon stroke="none" points="454.40,783.60 457.10,783.60 446.90,821.40 444.20,821.40"/>
<text transform="translate(77.80,308.46) rotate(-90)" font-size="43.5">F</text>
<text transform="translate(77.80,284.02) rotate(-90)" font-size="32.0">,</text>
<text transform="translate(77.80,270.91) rotate(-90)" font-size="43.5" fill="#0000ff" stroke="#0000ff">2</text>
<text transform="translate(77.80,237.73) rotate(-90)" font-size="43.5" fill="#0000ff" stroke="#0000ff">k</text>
<text transform="translate(84.80,215.43) rotate(-90)" font-size="30.5" fill="#0000ff" stroke="#0000ff">B</text>
<text transform="translate(77.80,192.68) rotate(-90)" font-size="43.5" fill="#0000ff" stroke="#0000ff">T</text>
<polygon stroke="none" points="84.60,167.70 84.60,165.40 47.80,150.60 47.80,152.90" fill="#0000ff"/>
<rect stroke="none" x="47.80" y="147.05" width="36.80" height="2.60" fill="#0000ff"/>
<text transform="translate(77.80,143.00) rotate(-90)" font-size="43.5" fill="#0000ff" stroke="#0000ff">e</text>
<text transform="translate(77.80,121.93) rotate(-90)" font-size="43.5" fill="#0000ff" stroke="#0000ff">V</text>
<rect stroke="none" x="47.80" y="85.35" width="36.80" height="2.60" fill="#0000ff"/>
<text transform="translate(76.20,662.36) rotate(-90)" font-size="43.5">F</text>
<rect stroke="none" x="63.35" y="612.9" width="2.6" height="21.8"/>
<text transform="translate(76.20,611.61) rotate(-90)" font-size="43.5">2</text>
<text transform="translate(76.20,590.23) rotate(-90)" font-size="43.5" fill="#000" stroke="#000">k</text>
<text transform="translate(83.20,567.93) rotate(-90)" font-size="30.5" fill="#000" stroke="#000">B</text>
<text transform="translate(76.20,545.18) rotate(-90)" font-size="43.5" fill="#000" stroke="#000">T</text>
<polygon stroke="none" points="83.00,520.20 83.00,517.90 46.20,503.10 46.20,505.40" fill="#000"/>
<rect stroke="none" x="46.20" y="499.55" width="36.80" height="2.60" fill="#000"/>
<text transform="translate(76.20,495.50) rotate(-90)" font-size="43.5" fill="#000" stroke="#000">e</text>
<text transform="translate(76.20,474.43) rotate(-90)" font-size="43.5" fill="#000" stroke="#000">V</text>
<rect stroke="none" x="46.20" y="437.85" width="36.80" height="2.60" fill="#000"/>
</g>
</svg>
</body></html>
